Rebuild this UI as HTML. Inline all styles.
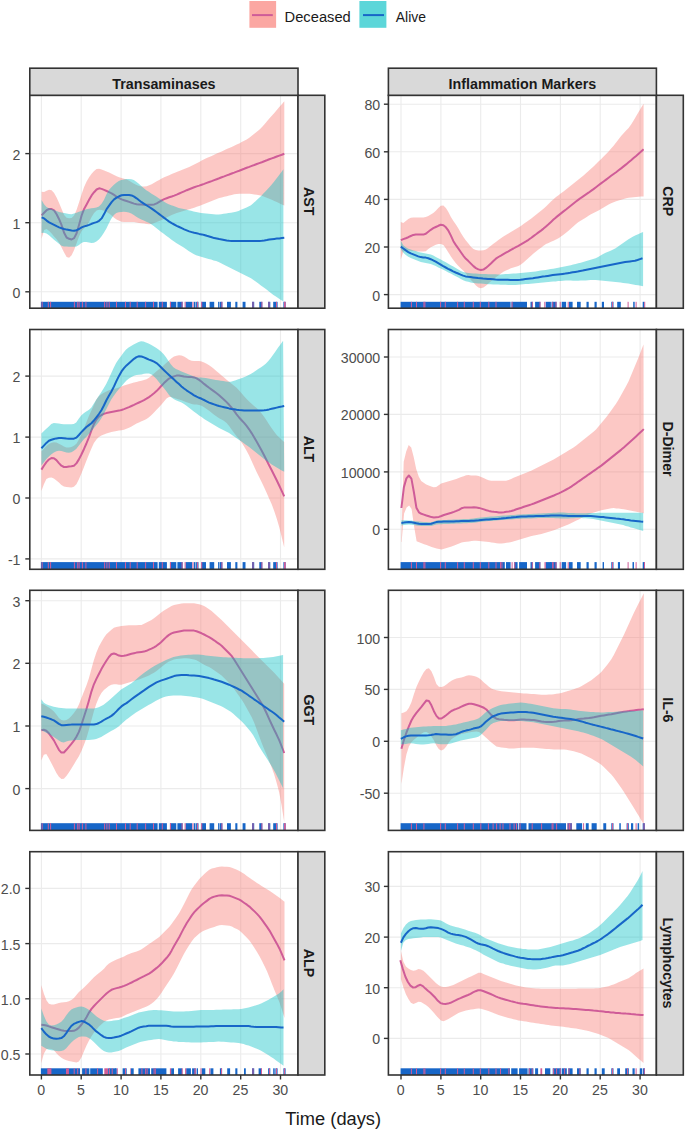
<!DOCTYPE html><html><head><meta charset="utf-8"><style>html,body{margin:0;padding:0;background:#fff;overflow:hidden;}svg{display:block;font-family:"Liberation Sans",sans-serif;}</style></head><body><svg width="685" height="1131" viewBox="0 0 685 1131">
<rect width="685" height="1131" fill="#fff"/>
<clipPath id="clip00"><rect x="29.8" y="95.3" width="268.2" height="212.89999999999998"/></clipPath>
<g stroke="#EBEBEB" stroke-width="1.1">
<line x1="41.4" y1="95.3" x2="41.4" y2="308.2"/>
<line x1="81.2" y1="95.3" x2="81.2" y2="308.2"/>
<line x1="121.1" y1="95.3" x2="121.1" y2="308.2"/>
<line x1="160.9" y1="95.3" x2="160.9" y2="308.2"/>
<line x1="200.8" y1="95.3" x2="200.8" y2="308.2"/>
<line x1="240.7" y1="95.3" x2="240.7" y2="308.2"/>
<line x1="280.5" y1="95.3" x2="280.5" y2="308.2"/>
<line x1="29.8" y1="291.8" x2="298.0" y2="291.8"/>
<line x1="29.8" y1="222.7" x2="298.0" y2="222.7"/>
<line x1="29.8" y1="153.6" x2="298.0" y2="153.6"/>
</g>
<g clip-path="url(#clip00)">
<path d="M41.6,191.7 44.1,192.0 46.6,190.7 49.1,189.8 51.6,190.2 54.1,192.9 56.6,197.5 59.1,203.0 61.6,209.1 64.1,214.9 66.6,217.8 69.1,218.3 71.6,218.0 74.1,215.5 76.6,209.8 79.1,202.3 81.6,194.3 84.1,187.1 86.6,181.5 89.1,177.3 91.6,173.8 94.1,171.0 96.6,169.0 99.1,168.7 101.6,169.4 104.1,170.4 106.6,171.4 109.1,172.6 111.6,173.8 114.1,175.0 116.6,176.2 119.1,177.2 121.6,178.0 124.1,178.7 126.6,179.5 129.1,180.8 131.6,182.3 134.1,183.8 136.6,185.1 139.1,186.0 141.6,186.6 144.2,186.6 146.7,186.2 149.2,185.3 151.7,184.2 154.2,182.8 156.7,181.3 159.2,179.9 161.7,178.5 164.2,177.3 166.7,176.2 169.2,175.2 171.7,174.1 174.2,173.0 176.7,172.0 179.2,171.0 181.7,170.0 184.2,169.0 186.7,168.0 189.2,167.0 191.7,165.8 194.2,164.6 196.7,163.3 199.2,161.9 201.7,160.6 204.2,159.3 206.7,158.1 209.2,157.0 211.7,155.9 214.2,154.8 216.7,153.6 219.2,152.5 221.7,151.4 224.2,150.3 226.7,149.1 229.2,148.0 231.7,146.9 234.2,145.7 236.7,144.6 239.2,143.4 241.7,142.1 244.2,140.8 246.7,139.5 249.3,137.7 251.8,135.8 254.3,133.8 256.8,131.8 259.3,129.8 261.8,127.2 264.3,124.4 266.8,121.5 269.3,118.6 271.8,115.8 274.3,112.9 276.8,110.0 279.3,107.1 281.8,104.2 284.3,101.3 284.3,205.6 281.8,204.4 279.3,203.3 276.8,202.1 274.3,201.0 271.8,199.8 269.3,198.8 266.8,197.7 264.3,196.7 261.8,195.8 259.3,195.2 256.8,194.8 254.3,194.4 251.8,194.0 249.3,193.8 246.7,193.8 244.2,193.8 241.7,193.8 239.2,193.8 236.7,193.9 234.2,194.3 231.7,194.9 229.2,195.5 226.7,196.2 224.2,196.8 221.7,197.4 219.2,198.1 216.7,198.9 214.2,199.9 211.7,200.9 209.2,201.9 206.7,202.9 204.2,203.9 201.7,204.9 199.2,205.9 196.7,206.8 194.2,207.7 191.7,208.5 189.2,209.2 186.7,209.9 184.2,210.7 181.7,211.4 179.2,212.2 176.7,213.0 174.2,213.9 171.7,215.1 169.2,216.3 166.7,217.6 164.2,218.7 161.7,219.9 159.2,220.9 156.7,222.0 154.2,223.1 151.7,224.1 149.2,224.3 146.7,224.0 144.2,223.6 141.6,223.3 139.1,222.9 136.6,222.4 134.1,222.1 131.6,221.9 129.1,221.9 126.6,221.9 124.1,221.9 121.6,221.7 119.1,220.8 116.6,219.4 114.1,217.7 111.6,215.5 109.1,213.6 106.6,212.1 104.1,210.7 101.6,209.9 99.1,209.8 96.6,210.6 94.1,213.0 91.6,217.0 89.1,221.9 86.6,225.8 84.1,228.3 81.6,231.0 79.1,236.3 76.6,243.2 74.1,250.0 71.6,255.3 69.1,257.8 66.6,256.9 64.1,252.6 61.6,247.5 59.1,242.8 56.6,239.3 54.1,236.4 51.6,233.5 49.1,231.0 46.6,229.1 44.1,230.0 41.6,238.8Z" fill="#F8766D" fill-opacity="0.4"/>
<path d="M41.6,215.4 44.1,212.7 46.6,210.2 49.1,209.0 51.6,209.0 54.1,210.4 56.6,214.2 59.1,219.2 61.6,225.2 64.1,232.8 66.6,237.5 69.1,238.8 71.6,239.5 74.1,238.1 76.6,233.2 79.1,224.7 81.6,215.5 84.1,208.9 86.6,204.4 89.1,199.8 91.6,195.4 94.1,192.2 96.6,189.5 99.1,188.3 101.6,188.9 104.1,189.9 106.6,191.0 109.1,192.2 111.6,193.3 114.1,194.9 116.6,196.7 119.1,198.2 121.6,199.4 124.1,200.2 126.6,201.0 129.1,201.9 131.6,202.8 134.1,203.6 136.6,204.2 139.1,204.5 141.6,204.6 144.2,204.7 146.7,204.7 149.2,204.7 151.7,204.7 154.2,204.4 156.7,203.3 159.2,201.8 161.7,200.3 164.2,199.1 166.7,198.2 169.2,197.3 171.7,196.5 174.2,195.6 176.7,194.6 179.2,193.5 181.7,192.4 184.2,191.3 186.7,190.2 189.2,189.2 191.7,188.2 194.2,187.3 196.7,186.4 199.2,185.6 201.7,184.7 204.2,183.9 206.7,182.9 209.2,182.0 211.7,181.1 214.2,180.1 216.7,179.2 219.2,178.3 221.7,177.3 224.2,176.4 226.7,175.4 229.2,174.5 231.7,173.5 234.2,172.6 236.7,171.6 239.2,170.7 241.7,169.7 244.2,168.8 246.7,167.8 249.3,166.9 251.8,165.9 254.3,165.0 256.8,164.0 259.3,163.1 261.8,162.2 264.3,161.2 266.8,160.3 269.3,159.3 271.8,158.4 274.3,157.5 276.8,156.5 279.3,155.6 281.8,154.7 284.3,153.7" fill="none" stroke="#CF5C98" stroke-width="2" stroke-linejoin="round"/>
<path d="M41.6,200.1 44.0,204.2 46.5,206.9 49.0,208.2 51.5,209.0 54.0,209.9 56.5,211.0 59.0,211.9 61.5,212.6 64.0,213.1 66.5,213.6 69.0,214.1 71.5,214.2 74.0,213.6 76.5,212.7 79.0,211.8 81.4,210.9 83.9,210.1 86.4,209.3 88.9,208.8 91.4,208.3 93.9,207.9 96.4,207.6 98.9,206.6 101.4,204.1 103.9,199.9 106.4,194.5 108.9,190.1 111.4,187.2 113.9,184.8 116.3,182.7 118.8,181.1 121.3,180.0 123.8,179.4 126.3,179.1 128.8,178.9 131.3,179.2 133.8,180.1 136.3,181.7 138.8,183.7 141.3,186.1 143.8,188.3 146.3,190.2 148.8,191.8 151.2,193.4 153.7,194.9 156.2,196.5 158.7,198.2 161.2,199.8 163.7,201.5 166.2,203.1 168.7,204.3 171.2,205.2 173.7,206.1 176.2,207.0 178.7,207.9 181.2,208.6 183.7,209.1 186.2,209.6 188.6,210.2 191.1,210.8 193.6,211.5 196.1,212.1 198.6,212.5 201.1,212.9 203.6,213.2 206.1,213.4 208.6,213.7 211.1,213.9 213.6,214.2 216.1,214.4 218.6,214.5 221.1,214.2 223.5,213.8 226.0,213.4 228.5,213.1 231.0,212.7 233.5,212.3 236.0,211.8 238.5,210.9 241.0,209.8 243.5,208.7 246.0,207.7 248.5,206.6 251.0,205.2 253.5,203.1 256.0,200.8 258.4,198.5 260.9,196.2 263.4,193.6 265.9,190.9 268.4,188.2 270.9,185.5 273.4,182.6 275.9,179.3 278.4,176.0 280.9,172.7 283.4,169.3 283.4,301.6 280.9,300.0 278.4,298.3 275.9,296.6 273.4,295.0 270.9,293.1 268.4,291.1 265.9,289.1 263.4,287.2 260.9,285.4 258.4,283.6 256.0,281.8 253.5,280.0 251.0,278.3 248.5,276.9 246.0,275.7 243.5,274.4 241.0,273.2 238.5,271.9 236.0,270.7 233.5,269.5 231.0,268.2 228.5,267.0 226.0,265.7 223.5,264.5 221.1,263.2 218.6,262.0 216.1,261.1 213.6,260.4 211.1,259.6 208.6,258.9 206.1,258.2 203.6,257.5 201.1,256.8 198.6,256.1 196.1,255.2 193.6,254.1 191.1,252.6 188.6,251.0 186.2,249.3 183.7,247.6 181.2,246.1 178.7,244.5 176.2,242.9 173.7,241.3 171.2,239.4 168.7,237.6 166.2,235.7 163.7,233.8 161.2,231.9 158.7,230.0 156.2,228.0 153.7,226.0 151.2,224.2 148.8,222.8 146.3,221.7 143.8,220.6 141.3,219.5 138.8,218.3 136.3,216.8 133.8,215.1 131.3,213.5 128.8,212.4 126.3,211.9 123.8,211.7 121.3,211.9 118.8,212.3 116.3,213.0 113.9,214.9 111.4,218.4 108.9,223.3 106.4,228.4 103.9,232.8 101.4,236.5 98.9,239.4 96.4,241.4 93.9,242.7 91.4,243.0 88.9,242.5 86.4,241.9 83.9,242.0 81.4,243.0 79.0,245.0 76.5,246.4 74.0,246.8 71.5,246.8 69.0,246.8 66.5,246.6 64.0,246.4 61.5,245.8 59.0,243.8 56.5,241.7 54.0,239.8 51.5,237.5 49.0,235.3 46.5,233.6 44.0,232.7 41.6,233.0Z" fill="#00BFC4" fill-opacity="0.4"/>
<path d="M41.6,217.3 44.1,218.4 46.6,220.6 49.1,222.4 51.6,223.6 54.1,224.8 56.6,226.2 59.1,227.4 61.6,228.3 64.1,229.0 66.6,229.6 69.1,230.1 71.6,230.6 74.1,230.8 76.6,230.2 79.1,229.0 81.6,227.4 84.1,226.4 86.6,225.7 89.1,224.9 91.6,223.8 94.1,222.9 96.6,222.1 99.1,220.8 101.6,218.4 104.1,214.1 106.6,209.1 109.1,205.6 111.6,202.2 114.1,199.4 116.6,197.6 119.1,196.3 121.6,195.3 124.1,195.0 126.6,194.9 129.1,194.9 131.6,195.4 134.1,196.6 136.6,198.3 139.1,200.3 141.6,202.2 144.2,203.9 146.7,205.5 149.2,207.0 151.7,208.6 154.2,210.4 156.7,212.2 159.2,214.1 161.7,216.0 164.2,217.9 166.7,219.7 169.2,221.6 171.7,223.2 174.2,224.5 176.7,225.8 179.2,227.0 181.7,228.2 184.2,229.4 186.7,230.4 189.2,231.4 191.7,232.1 194.2,232.8 196.7,233.3 199.2,233.9 201.7,234.4 204.2,235.0 206.7,235.8 209.2,236.5 211.7,237.3 214.2,238.1 216.7,238.6 219.2,239.1 221.7,239.5 224.2,240.0 226.7,240.5 229.2,240.8 231.7,240.9 234.2,240.9 236.7,240.9 239.2,240.9 241.7,240.9 244.2,240.9 246.7,240.9 249.3,240.9 251.8,240.9 254.3,240.9 256.8,240.9 259.3,240.9 261.8,240.8 264.3,240.5 266.8,240.1 269.3,239.6 271.8,239.2 274.3,238.9 276.8,238.6 279.3,238.4 281.8,238.1 284.3,237.8" fill="none" stroke="#1766C8" stroke-width="2" stroke-linejoin="round"/>
<rect x="40.9" y="301.8" width="116.7" height="6.4" fill="#1766C8"/>
<rect x="158.8" y="301.8" width="8.1" height="6.4" fill="#1766C8"/>
<rect x="169.9" y="301.8" width="6.4" height="6.4" fill="#1766C8"/>
<rect x="177.4" y="301.8" width="5.3" height="6.4" fill="#1766C8"/>
<rect x="185.6" y="301.8" width="6.4" height="6.4" fill="#1766C8"/>
<rect x="193.8" y="301.8" width="1.7" height="6.4" fill="#1766C8"/>
<rect x="196.1" y="301.8" width="2.4" height="6.4" fill="#1766C8"/>
<rect x="201.4" y="301.8" width="4.6" height="6.4" fill="#1766C8"/>
<rect x="209.6" y="301.8" width="4.6" height="6.4" fill="#1766C8"/>
<rect x="218.0" y="301.8" width="0.9" height="6.4" fill="#1766C8"/>
<rect x="219.5" y="301.8" width="2.9" height="6.4" fill="#1766C8"/>
<rect x="227.0" y="301.8" width="3.9" height="6.4" fill="#1766C8"/>
<rect x="235.3" y="301.8" width="2.1" height="6.4" fill="#1766C8"/>
<rect x="242.6" y="301.8" width="2.9" height="6.4" fill="#1766C8"/>
<rect x="252.0" y="301.8" width="2.2" height="6.4" fill="#1766C8"/>
<rect x="259.3" y="301.8" width="3.0" height="6.4" fill="#1766C8"/>
<rect x="268.0" y="301.8" width="2.3" height="6.4" fill="#1766C8"/>
<rect x="273.2" y="301.8" width="4.4" height="6.4" fill="#1766C8"/>
<rect x="283.4" y="301.8" width="2.2" height="6.4" fill="#1766C8"/>
<rect x="41.6" y="301.8" width="1" height="6.4" fill="#CF5C98"/>
<rect x="47.8" y="301.8" width="1" height="6.4" fill="#CF5C98"/>
<rect x="50.1" y="301.8" width="1" height="6.4" fill="#CF5C98"/>
<rect x="73.9" y="301.8" width="1" height="6.4" fill="#CF5C98"/>
<rect x="77.2" y="301.8" width="1" height="6.4" fill="#CF5C98"/>
<rect x="78.6" y="301.8" width="1" height="6.4" fill="#CF5C98"/>
<rect x="81.9" y="301.8" width="1" height="6.4" fill="#CF5C98"/>
<rect x="85.4" y="301.8" width="1" height="6.4" fill="#CF5C98"/>
<rect x="104.1" y="301.8" width="1" height="6.4" fill="#CF5C98"/>
<rect x="106.4" y="301.8" width="1" height="6.4" fill="#CF5C98"/>
<rect x="108.7" y="301.8" width="1" height="6.4" fill="#CF5C98"/>
<rect x="116.0" y="301.8" width="1" height="6.4" fill="#CF5C98"/>
<rect x="125.0" y="301.8" width="1" height="6.4" fill="#CF5C98"/>
<rect x="129.7" y="301.8" width="1" height="6.4" fill="#CF5C98"/>
<rect x="136.7" y="301.8" width="1" height="6.4" fill="#CF5C98"/>
<rect x="145.1" y="301.8" width="1" height="6.4" fill="#CF5C98"/>
<rect x="153.0" y="301.8" width="1" height="6.4" fill="#CF5C98"/>
<rect x="161.8" y="301.8" width="1" height="6.4" fill="#CF5C98"/>
<rect x="170.0" y="301.8" width="1" height="6.4" fill="#CF5C98"/>
<rect x="181.6" y="301.8" width="1" height="6.4" fill="#CF5C98"/>
<rect x="184.6" y="301.8" width="1" height="6.4" fill="#CF5C98"/>
<rect x="192.4" y="301.8" width="1" height="6.4" fill="#CF5C98"/>
<rect x="197.0" y="301.8" width="1" height="6.4" fill="#CF5C98"/>
<rect x="201.2" y="301.8" width="1" height="6.4" fill="#CF5C98"/>
<rect x="221.4" y="301.8" width="1" height="6.4" fill="#CF5C98"/>
<rect x="252.5" y="301.8" width="1" height="6.4" fill="#CF5C98"/>
<rect x="261.4" y="301.8" width="1" height="6.4" fill="#CF5C98"/>
<rect x="268.5" y="301.8" width="1" height="6.4" fill="#CF5C98"/>
<rect x="276.0" y="301.8" width="1" height="6.4" fill="#CF5C98"/>
<rect x="284.0" y="301.8" width="1" height="6.4" fill="#CF5C98"/>
<rect x="284.7" y="301.8" width="1" height="6.4" fill="#CF5C98"/>
</g>
<rect x="29.8" y="95.3" width="268.2" height="212.89999999999998" fill="none" stroke="#333" stroke-width="1.6"/>
<rect x="298.0" y="95.3" width="26.80000000000001" height="212.89999999999998" fill="#D9D9D9" stroke="#333" stroke-width="1.6"/>
<text transform="translate(304.1,201.3) rotate(90)" text-anchor="middle" font-weight="bold" font-size="14.2" fill="#1A1A1A">AST</text>
<line x1="25.3" y1="291.8" x2="29.8" y2="291.8" stroke="#333" stroke-width="1.4"/>
<text transform="translate(20.5,297.8) scale(0.915,1)" text-anchor="end" font-size="15.5" fill="#4D4D4D">0</text>
<line x1="25.3" y1="222.7" x2="29.8" y2="222.7" stroke="#333" stroke-width="1.4"/>
<text transform="translate(20.5,228.7) scale(0.915,1)" text-anchor="end" font-size="15.5" fill="#4D4D4D">1</text>
<line x1="25.3" y1="153.6" x2="29.8" y2="153.6" stroke="#333" stroke-width="1.4"/>
<text transform="translate(20.5,159.6) scale(0.915,1)" text-anchor="end" font-size="15.5" fill="#4D4D4D">2</text>
<clipPath id="clip01"><rect x="388.4" y="95.3" width="268.0" height="212.89999999999998"/></clipPath>
<g stroke="#EBEBEB" stroke-width="1.1">
<line x1="401.0" y1="95.3" x2="401.0" y2="308.2"/>
<line x1="440.9" y1="95.3" x2="440.9" y2="308.2"/>
<line x1="480.7" y1="95.3" x2="480.7" y2="308.2"/>
<line x1="520.5" y1="95.3" x2="520.5" y2="308.2"/>
<line x1="560.4" y1="95.3" x2="560.4" y2="308.2"/>
<line x1="600.2" y1="95.3" x2="600.2" y2="308.2"/>
<line x1="640.1" y1="95.3" x2="640.1" y2="308.2"/>
<line x1="388.4" y1="294.6" x2="656.4" y2="294.6"/>
<line x1="388.4" y1="247.0" x2="656.4" y2="247.0"/>
<line x1="388.4" y1="199.4" x2="656.4" y2="199.4"/>
<line x1="388.4" y1="151.8" x2="656.4" y2="151.8"/>
<line x1="388.4" y1="104.2" x2="656.4" y2="104.2"/>
</g>
<g clip-path="url(#clip01)">
<path d="M400.8,222.0 403.3,223.0 405.8,221.1 408.3,218.9 410.8,217.8 413.3,217.4 415.8,217.4 418.3,217.4 420.8,217.4 423.3,217.4 425.8,217.1 428.3,216.0 430.8,214.5 433.3,212.9 435.8,210.7 438.3,208.1 440.8,205.7 443.4,205.4 445.9,207.9 448.4,212.1 450.9,216.9 453.4,221.0 455.9,224.6 458.4,228.5 460.9,232.9 463.4,237.1 465.9,240.5 468.4,243.6 470.9,246.7 473.4,249.0 475.9,250.0 478.4,250.6 480.9,250.6 483.4,250.3 485.9,249.6 488.4,247.8 490.9,245.8 493.4,243.8 495.9,241.9 498.4,240.0 500.9,238.2 503.4,236.5 505.9,235.1 508.4,233.6 510.9,232.1 513.4,230.6 515.9,229.1 518.4,227.5 520.9,225.9 523.5,224.1 526.0,222.3 528.5,220.5 531.0,218.7 533.5,216.8 536.0,214.8 538.5,212.8 541.0,210.8 543.5,208.7 546.0,206.4 548.5,204.0 551.0,201.6 553.5,199.3 556.0,197.1 558.5,195.2 561.0,193.3 563.5,191.4 566.0,189.5 568.5,187.6 571.0,185.6 573.5,183.6 576.0,181.6 578.5,179.6 581.0,177.5 583.5,175.4 586.0,173.3 588.5,171.1 591.0,168.8 593.5,166.4 596.0,164.1 598.5,161.6 601.0,159.2 603.6,156.6 606.1,154.1 608.6,151.5 611.1,148.6 613.6,145.7 616.1,142.6 618.6,139.3 621.1,136.0 623.6,133.2 626.1,130.6 628.6,127.9 631.1,124.4 633.6,120.5 636.1,116.3 638.6,112.0 641.1,107.8 643.6,103.8 643.6,196.4 641.1,196.6 638.6,196.8 636.1,197.0 633.6,197.2 631.1,197.4 628.6,197.7 626.1,198.3 623.6,199.0 621.1,199.7 618.6,200.4 616.1,201.3 613.6,202.2 611.1,203.2 608.6,204.6 606.1,206.1 603.6,207.6 601.0,209.1 598.5,210.4 596.0,211.7 593.5,213.0 591.0,214.3 588.5,215.8 586.0,217.4 583.5,218.9 581.0,220.4 578.5,222.1 576.0,224.1 573.5,226.3 571.0,228.5 568.5,230.7 566.0,232.8 563.5,234.7 561.0,236.6 558.5,238.3 556.0,239.6 553.5,240.7 551.0,241.8 548.5,243.0 546.0,244.1 543.5,245.7 541.0,247.7 538.5,249.6 536.0,251.6 533.5,253.6 531.0,255.8 528.5,258.0 526.0,260.2 523.5,262.4 520.9,264.5 518.4,265.9 515.9,266.7 513.4,267.4 510.9,268.3 508.4,269.4 505.9,270.5 503.4,271.8 500.9,273.6 498.4,275.4 495.9,277.2 493.4,279.2 490.9,281.3 488.4,283.5 485.9,285.7 483.4,287.6 480.9,288.2 478.4,287.5 475.9,285.4 473.4,282.6 470.9,279.9 468.4,276.7 465.9,273.5 463.4,270.8 460.9,268.5 458.4,266.0 455.9,263.2 453.4,260.1 450.9,256.4 448.4,252.4 445.9,248.4 443.4,245.1 440.8,244.0 438.3,244.0 435.8,244.7 433.3,245.9 430.8,247.3 428.3,249.1 425.8,251.2 423.3,251.6 420.8,251.5 418.3,251.4 415.8,251.3 413.3,251.1 410.8,250.8 408.3,250.6 405.8,250.4 403.3,251.7 400.8,259.4Z" fill="#F8766D" fill-opacity="0.4"/>
<path d="M400.8,240.1 403.3,239.1 405.8,238.2 408.3,237.2 410.8,236.0 413.3,234.9 415.8,234.4 418.3,234.5 420.8,234.6 423.3,234.6 425.8,233.7 428.3,231.7 430.8,229.8 433.3,228.2 435.8,227.0 438.3,225.8 440.8,224.8 443.4,225.2 445.9,227.3 448.4,230.7 450.9,235.6 453.4,241.2 455.9,245.1 458.4,248.6 460.9,252.2 463.4,255.8 465.9,258.8 468.4,261.1 470.9,263.6 473.4,266.1 475.9,268.1 478.4,269.4 480.9,270.0 483.4,269.6 485.9,267.9 488.4,265.8 490.9,263.5 493.4,261.0 495.9,258.7 498.4,257.0 500.9,255.6 503.4,254.1 505.9,252.7 508.4,251.3 510.9,249.8 513.4,248.5 515.9,247.1 518.4,245.8 520.9,244.4 523.5,242.9 526.0,241.4 528.5,239.8 531.0,238.0 533.5,236.1 536.0,234.3 538.5,232.4 541.0,230.6 543.5,228.6 546.0,226.4 548.5,224.2 551.0,221.9 553.5,219.6 556.0,217.4 558.5,215.4 561.0,213.4 563.5,211.4 566.0,209.5 568.5,207.5 571.0,205.5 573.5,203.5 576.0,201.5 578.5,199.6 581.0,197.8 583.5,196.1 586.0,194.4 588.5,192.7 591.0,190.9 593.5,189.1 596.0,187.2 598.5,185.3 601.0,183.4 603.6,181.5 606.1,179.6 608.6,177.7 611.1,175.8 613.6,174.0 616.1,172.2 618.6,170.3 621.1,168.4 623.6,166.4 626.1,164.4 628.6,162.3 631.1,160.2 633.6,158.0 636.1,155.9 638.6,153.7 641.1,151.5 643.6,149.3" fill="none" stroke="#CF5C98" stroke-width="2" stroke-linejoin="round"/>
<path d="M400.8,240.7 403.3,245.3 405.8,247.3 408.3,248.7 410.8,249.6 413.3,250.4 415.8,251.1 418.3,251.9 420.8,252.5 423.3,253.0 425.8,253.5 428.3,254.0 430.8,254.6 433.3,255.6 435.8,256.9 438.3,258.2 440.8,259.6 443.3,260.9 445.8,262.3 448.3,263.7 450.8,265.2 453.3,266.6 455.8,268.0 458.3,269.4 460.8,270.9 463.2,272.1 465.7,272.6 468.2,272.9 470.7,273.2 473.2,273.4 475.7,273.6 478.2,273.8 480.7,273.9 483.2,274.0 485.7,274.1 488.2,274.2 490.7,274.3 493.2,274.3 495.7,274.3 498.2,274.4 500.7,274.4 503.2,274.2 505.7,274.1 508.2,273.9 510.7,273.8 513.2,273.6 515.7,273.4 518.2,273.2 520.7,273.0 523.2,272.7 525.7,272.5 528.2,272.2 530.7,272.0 533.2,271.7 535.7,271.4 538.2,271.0 540.7,270.6 543.2,270.2 545.7,269.9 548.2,269.5 550.7,269.1 553.2,268.7 555.7,268.2 558.2,267.8 560.7,267.3 563.2,266.8 565.7,266.3 568.2,265.8 570.7,265.2 573.2,264.6 575.7,264.0 578.2,263.3 580.7,262.7 583.1,262.0 585.6,261.3 588.1,260.6 590.6,259.8 593.1,259.1 595.6,258.3 598.1,257.0 600.6,255.4 603.1,253.9 605.6,252.7 608.1,251.7 610.6,250.7 613.1,249.6 615.6,248.3 618.1,246.6 620.6,244.7 623.1,242.9 625.6,241.2 628.1,239.6 630.6,238.0 633.1,236.5 635.6,235.3 638.1,234.2 640.6,233.1 643.1,232.0 643.1,286.2 640.6,285.8 638.1,285.3 635.6,284.9 633.1,284.4 630.6,284.0 628.1,283.6 625.6,283.2 623.1,282.9 620.6,282.6 618.1,282.3 615.6,282.0 613.1,281.7 610.6,281.4 608.1,281.2 605.6,280.9 603.1,280.7 600.6,280.4 598.1,280.2 595.6,280.0 593.1,280.0 590.6,280.1 588.1,280.3 585.6,280.4 583.1,280.5 580.7,280.6 578.2,280.7 575.7,280.8 573.2,280.7 570.7,280.6 568.2,280.6 565.7,280.6 563.2,280.7 560.7,280.9 558.2,281.1 555.7,281.4 553.2,281.6 550.7,281.8 548.2,282.0 545.7,282.3 543.2,282.5 540.7,282.8 538.2,283.0 535.7,283.3 533.2,283.5 530.7,283.7 528.2,283.9 525.7,284.1 523.2,284.3 520.7,284.6 518.2,284.8 515.7,284.9 513.2,285.0 510.7,284.9 508.2,284.9 505.7,284.8 503.2,284.7 500.7,284.7 498.2,284.6 495.7,284.5 493.2,284.4 490.7,284.3 488.2,284.2 485.7,284.0 483.2,283.8 480.7,283.6 478.2,283.4 475.7,283.2 473.2,282.9 470.7,282.4 468.2,281.8 465.7,281.2 463.2,280.3 460.8,279.1 458.3,277.6 455.8,276.2 453.3,274.9 450.8,273.6 448.3,272.4 445.8,271.1 443.3,269.8 440.8,268.6 438.3,267.4 435.8,266.1 433.3,264.9 430.8,264.0 428.3,263.4 425.8,262.9 423.3,262.4 420.8,261.9 418.3,261.1 415.8,260.1 413.3,259.1 410.8,258.1 408.3,256.8 405.8,255.0 403.3,252.7 400.8,248.9Z" fill="#00BFC4" fill-opacity="0.4"/>
<path d="M400.8,246.6 403.3,248.5 405.8,250.4 408.3,252.1 410.8,253.4 413.3,254.4 415.8,255.4 418.2,256.4 420.7,257.1 423.2,257.4 425.7,257.6 428.2,258.2 430.7,259.2 433.2,260.3 435.7,261.7 438.2,263.2 440.7,264.7 443.2,266.2 445.7,267.5 448.1,268.8 450.6,270.0 453.1,271.3 455.6,272.5 458.1,273.5 460.6,274.6 463.1,275.6 465.6,276.4 468.1,276.8 470.6,277.1 473.1,277.4 475.6,277.7 478.0,278.0 480.5,278.2 483.0,278.5 485.5,278.7 488.0,278.9 490.5,279.1 493.0,279.3 495.5,279.6 498.0,279.7 500.5,279.8 503.0,279.8 505.5,279.8 507.9,279.8 510.4,279.9 512.9,279.9 515.4,279.9 517.9,279.9 520.4,279.7 522.9,279.4 525.4,279.1 527.9,278.8 530.4,278.5 532.9,278.2 535.4,277.8 537.8,277.4 540.3,277.0 542.8,276.6 545.3,276.3 547.8,275.9 550.3,275.5 552.8,275.1 555.3,274.8 557.8,274.5 560.3,274.2 562.8,273.9 565.3,273.6 567.7,273.2 570.2,272.8 572.7,272.3 575.2,271.9 577.7,271.5 580.2,271.0 582.7,270.6 585.2,270.1 587.7,269.6 590.2,269.1 592.7,268.6 595.2,268.1 597.6,267.6 600.1,267.1 602.6,266.6 605.1,266.1 607.6,265.6 610.1,265.1 612.6,264.6 615.1,264.1 617.6,263.6 620.1,263.1 622.6,262.6 625.1,262.1 627.5,261.7 630.0,261.4 632.5,261.1 635.0,260.7 637.5,260.0 640.0,259.1 642.5,258.2" fill="none" stroke="#1766C8" stroke-width="2" stroke-linejoin="round"/>
<rect x="400.6" y="301.8" width="110.0" height="6.4" fill="#1766C8"/>
<rect x="511.4" y="301.8" width="15.6" height="6.4" fill="#1766C8"/>
<rect x="530.5" y="301.8" width="2.3" height="6.4" fill="#1766C8"/>
<rect x="535.1" y="301.8" width="5.3" height="6.4" fill="#1766C8"/>
<rect x="545.7" y="301.8" width="5.2" height="6.4" fill="#1766C8"/>
<rect x="551.5" y="301.8" width="5.1" height="6.4" fill="#1766C8"/>
<rect x="561.7" y="301.8" width="4.4" height="6.4" fill="#1766C8"/>
<rect x="569.0" y="301.8" width="3.6" height="6.4" fill="#1766C8"/>
<rect x="577.0" y="301.8" width="3.7" height="6.4" fill="#1766C8"/>
<rect x="586.5" y="301.8" width="2.2" height="6.4" fill="#1766C8"/>
<rect x="594.5" y="301.8" width="2.2" height="6.4" fill="#1766C8"/>
<rect x="601.8" y="301.8" width="2.2" height="6.4" fill="#1766C8"/>
<rect x="611.3" y="301.8" width="2.2" height="6.4" fill="#1766C8"/>
<rect x="617.2" y="301.8" width="3.6" height="6.4" fill="#1766C8"/>
<rect x="633.2" y="301.8" width="1.5" height="6.4" fill="#1766C8"/>
<rect x="642.7" y="301.8" width="1.5" height="6.4" fill="#1766C8"/>
<rect x="410.9" y="301.8" width="1" height="6.4" fill="#CF5C98"/>
<rect x="416.0" y="301.8" width="1" height="6.4" fill="#CF5C98"/>
<rect x="423.4" y="301.8" width="1" height="6.4" fill="#CF5C98"/>
<rect x="424.4" y="301.8" width="1" height="6.4" fill="#CF5C98"/>
<rect x="440.1" y="301.8" width="1" height="6.4" fill="#CF5C98"/>
<rect x="444.8" y="301.8" width="1" height="6.4" fill="#CF5C98"/>
<rect x="457.1" y="301.8" width="1" height="6.4" fill="#CF5C98"/>
<rect x="463.8" y="301.8" width="1" height="6.4" fill="#CF5C98"/>
<rect x="472.8" y="301.8" width="1" height="6.4" fill="#CF5C98"/>
<rect x="479.8" y="301.8" width="1" height="6.4" fill="#CF5C98"/>
<rect x="488.3" y="301.8" width="1" height="6.4" fill="#CF5C98"/>
<rect x="495.5" y="301.8" width="1" height="6.4" fill="#CF5C98"/>
<rect x="511.6" y="301.8" width="1" height="6.4" fill="#CF5C98"/>
<rect x="531.8" y="301.8" width="1" height="6.4" fill="#CF5C98"/>
<rect x="539.5" y="301.8" width="1" height="6.4" fill="#CF5C98"/>
<rect x="544.3" y="301.8" width="1" height="6.4" fill="#CF5C98"/>
<rect x="552.2" y="301.8" width="1" height="6.4" fill="#CF5C98"/>
<rect x="555.5" y="301.8" width="1" height="6.4" fill="#CF5C98"/>
<rect x="559.7" y="301.8" width="1" height="6.4" fill="#CF5C98"/>
<rect x="567.7" y="301.8" width="1" height="6.4" fill="#CF5C98"/>
<rect x="612.0" y="301.8" width="1" height="6.4" fill="#CF5C98"/>
<rect x="627.6" y="301.8" width="1" height="6.4" fill="#CF5C98"/>
<rect x="635.6" y="301.8" width="1" height="6.4" fill="#CF5C98"/>
<rect x="644.2" y="301.8" width="1" height="6.4" fill="#CF5C98"/>
</g>
<rect x="388.4" y="95.3" width="268.0" height="212.89999999999998" fill="none" stroke="#333" stroke-width="1.6"/>
<rect x="656.4" y="95.3" width="26.899999999999977" height="212.89999999999998" fill="#D9D9D9" stroke="#333" stroke-width="1.6"/>
<text transform="translate(662.5,201.3) rotate(90)" text-anchor="middle" font-weight="bold" font-size="14.2" fill="#1A1A1A">CRP</text>
<line x1="383.9" y1="294.6" x2="388.4" y2="294.6" stroke="#333" stroke-width="1.4"/>
<text transform="translate(380.2,300.6) scale(0.915,1)" text-anchor="end" font-size="15.5" fill="#4D4D4D">0</text>
<line x1="383.9" y1="247.0" x2="388.4" y2="247.0" stroke="#333" stroke-width="1.4"/>
<text transform="translate(380.2,253.0) scale(0.915,1)" text-anchor="end" font-size="15.5" fill="#4D4D4D">20</text>
<line x1="383.9" y1="199.4" x2="388.4" y2="199.4" stroke="#333" stroke-width="1.4"/>
<text transform="translate(380.2,205.4) scale(0.915,1)" text-anchor="end" font-size="15.5" fill="#4D4D4D">40</text>
<line x1="383.9" y1="151.8" x2="388.4" y2="151.8" stroke="#333" stroke-width="1.4"/>
<text transform="translate(380.2,157.8) scale(0.915,1)" text-anchor="end" font-size="15.5" fill="#4D4D4D">60</text>
<line x1="383.9" y1="104.2" x2="388.4" y2="104.2" stroke="#333" stroke-width="1.4"/>
<text transform="translate(380.2,110.2) scale(0.915,1)" text-anchor="end" font-size="15.5" fill="#4D4D4D">80</text>
<clipPath id="clip10"><rect x="29.8" y="329.5" width="268.2" height="239.79999999999995"/></clipPath>
<g stroke="#EBEBEB" stroke-width="1.1">
<line x1="41.4" y1="329.5" x2="41.4" y2="569.3"/>
<line x1="81.2" y1="329.5" x2="81.2" y2="569.3"/>
<line x1="121.1" y1="329.5" x2="121.1" y2="569.3"/>
<line x1="160.9" y1="329.5" x2="160.9" y2="569.3"/>
<line x1="200.8" y1="329.5" x2="200.8" y2="569.3"/>
<line x1="240.7" y1="329.5" x2="240.7" y2="569.3"/>
<line x1="280.5" y1="329.5" x2="280.5" y2="569.3"/>
<line x1="29.8" y1="558.9" x2="298.0" y2="558.9"/>
<line x1="29.8" y1="498.0" x2="298.0" y2="498.0"/>
<line x1="29.8" y1="437.1" x2="298.0" y2="437.1"/>
<line x1="29.8" y1="376.1" x2="298.0" y2="376.1"/>
</g>
<g clip-path="url(#clip10)">
<path d="M41.4,451.5 43.9,448.8 46.4,446.1 48.9,443.9 51.4,442.7 53.9,442.2 56.4,442.6 58.9,443.7 61.4,445.1 63.9,446.5 66.4,447.5 68.9,447.6 71.4,447.1 73.9,445.8 76.4,443.7 78.9,439.6 81.4,434.5 83.9,428.7 86.4,422.3 88.9,416.1 91.4,410.5 93.9,404.9 96.4,399.5 98.9,396.2 101.4,394.2 103.9,392.7 106.4,391.4 108.9,390.3 111.4,389.4 114.0,388.8 116.5,388.2 119.0,387.4 121.5,386.5 124.0,385.6 126.5,384.8 129.0,384.0 131.5,383.3 134.0,382.5 136.5,381.9 139.0,381.3 141.5,380.7 144.0,380.1 146.5,379.3 149.0,377.8 151.5,375.8 154.0,373.4 156.5,371.2 159.0,369.2 161.5,367.2 164.0,365.0 166.5,362.8 169.0,360.5 171.5,358.3 174.0,356.6 176.5,355.7 179.0,355.3 181.5,355.6 184.0,356.5 186.5,358.0 189.0,359.7 191.6,360.8 194.1,361.0 196.6,361.0 199.1,361.1 201.6,361.6 204.1,362.6 206.6,363.8 209.1,365.3 211.6,367.1 214.1,369.1 216.6,371.2 219.1,373.3 221.6,375.5 224.1,377.6 226.6,379.7 229.1,381.8 231.6,383.8 234.1,385.7 236.6,387.7 239.1,390.4 241.6,393.3 244.1,396.2 246.6,399.0 249.1,401.6 251.6,403.8 254.1,405.9 256.6,408.0 259.1,410.4 261.6,413.4 264.1,416.8 266.6,420.5 269.1,424.4 271.7,428.2 274.2,431.8 276.7,434.9 279.2,437.4 281.7,439.7 284.2,441.9 284.2,547.4 281.7,536.9 279.2,526.9 276.7,518.5 274.2,511.0 271.7,504.2 269.1,498.4 266.6,492.8 264.1,487.3 261.6,482.1 259.1,477.1 256.6,472.0 254.1,466.6 251.6,461.0 249.1,455.6 246.6,450.7 244.1,446.4 241.6,442.6 239.1,439.3 236.6,436.2 234.1,432.9 231.6,429.5 229.1,426.0 226.6,423.1 224.1,421.0 221.6,419.4 219.1,418.2 216.6,416.6 214.1,414.7 211.6,412.7 209.1,410.7 206.6,408.9 204.1,407.2 201.6,405.8 199.1,404.9 196.6,404.5 194.1,404.4 191.6,404.0 189.0,403.1 186.5,402.2 184.0,401.2 181.5,400.3 179.0,399.6 176.5,398.8 174.0,397.9 171.5,397.0 169.0,397.1 166.5,398.6 164.0,401.4 161.5,404.5 159.0,407.2 156.5,409.7 154.0,412.4 151.5,415.0 149.0,417.3 146.5,419.0 144.0,420.2 141.5,421.3 139.0,422.4 136.5,423.6 134.0,424.9 131.5,426.4 129.0,427.8 126.5,428.8 124.0,429.8 121.5,430.3 119.0,430.5 116.5,430.9 114.0,431.4 111.4,431.9 108.9,432.7 106.4,433.4 103.9,434.4 101.4,435.4 98.9,437.1 96.4,439.6 93.9,443.0 91.4,448.4 88.9,454.5 86.4,460.8 83.9,467.3 81.4,473.5 78.9,479.3 76.4,484.2 73.9,486.8 71.4,487.5 68.9,487.3 66.4,487.0 63.9,486.5 61.4,484.9 58.9,482.6 56.4,480.4 53.9,478.4 51.4,477.4 48.9,477.7 46.4,479.1 43.9,484.2 41.4,490.9Z" fill="#F8766D" fill-opacity="0.4"/>
<path d="M41.4,469.6 43.9,465.7 46.4,462.1 48.9,459.5 51.4,458.1 53.9,458.2 56.4,460.1 58.9,463.1 61.4,465.7 63.9,467.0 66.4,466.9 68.9,466.4 71.4,466.3 73.9,465.8 76.4,463.4 78.9,459.4 81.4,454.5 83.9,449.2 86.4,443.5 88.9,437.3 91.4,430.3 93.9,424.1 96.4,419.6 98.9,416.7 101.4,415.0 103.9,413.8 106.4,413.1 108.9,412.6 111.4,412.1 114.0,411.6 116.5,411.1 119.0,410.6 121.5,410.0 124.0,409.1 126.5,408.1 129.0,407.1 131.5,406.0 134.0,404.9 136.5,403.7 139.0,402.5 141.5,401.3 144.0,400.1 146.5,398.7 149.0,397.1 151.5,395.3 154.0,393.3 156.5,391.1 159.0,388.5 161.5,385.7 164.0,383.1 166.5,380.8 169.0,378.6 171.5,377.3 174.0,376.4 176.5,375.6 179.0,375.5 181.5,376.0 184.0,376.5 186.5,376.8 189.0,376.9 191.6,377.0 194.1,377.4 196.6,378.4 199.1,379.9 201.6,381.8 204.1,383.9 206.6,385.9 209.1,387.8 211.6,389.6 214.1,391.4 216.6,393.2 219.1,395.2 221.6,397.5 224.1,399.7 226.6,402.1 229.1,404.8 231.6,407.7 234.1,410.9 236.6,414.3 239.1,417.5 241.6,420.2 244.1,422.9 246.6,425.9 249.1,429.3 251.6,433.1 254.1,437.2 256.6,441.6 259.1,446.1 261.6,450.6 264.1,455.2 266.6,460.2 269.1,465.2 271.7,470.2 274.2,475.2 276.7,480.3 279.2,485.5 281.7,490.9 284.2,496.3" fill="none" stroke="#CF5C98" stroke-width="2" stroke-linejoin="round"/>
<path d="M41.4,433.4 43.9,431.1 46.3,428.8 48.8,426.4 51.3,424.0 53.8,423.1 56.3,423.2 58.8,423.6 61.3,424.0 63.8,424.2 66.3,424.3 68.8,424.2 71.3,424.2 73.8,424.1 76.2,422.5 78.7,418.7 81.2,415.4 83.7,413.2 86.2,411.4 88.7,410.0 91.2,407.7 93.7,403.8 96.2,399.7 98.7,395.9 101.2,392.2 103.7,388.3 106.2,383.9 108.6,378.9 111.1,373.4 113.6,367.9 116.1,363.1 118.6,359.3 121.1,356.0 123.6,352.6 126.1,349.6 128.6,347.4 131.1,345.9 133.6,344.6 136.1,343.3 138.6,342.1 141.0,341.2 143.5,341.6 146.0,342.5 148.5,343.5 151.0,344.7 153.5,346.2 156.0,347.8 158.5,349.5 161.0,351.6 163.5,354.0 166.0,357.3 168.5,361.0 171.0,364.5 173.4,367.2 175.9,368.9 178.4,370.0 180.9,371.2 183.4,372.3 185.9,373.3 188.4,374.3 190.9,375.3 193.4,376.2 195.9,377.0 198.4,377.4 200.9,377.6 203.4,377.7 205.8,378.0 208.3,378.4 210.8,378.9 213.3,379.4 215.8,379.9 218.3,380.3 220.8,380.7 223.3,381.1 225.8,381.4 228.3,381.7 230.8,381.7 233.3,381.0 235.8,380.2 238.2,379.3 240.7,378.4 243.2,377.4 245.7,376.4 248.2,375.3 250.7,373.9 253.2,372.5 255.7,370.8 258.2,369.1 260.7,367.5 263.2,365.7 265.7,363.7 268.1,361.2 270.6,358.2 273.1,354.8 275.6,351.2 278.1,347.6 280.6,344.2 283.1,340.7 284.2,471.8 281.7,470.4 279.2,469.0 276.7,467.6 274.2,466.1 271.7,464.4 269.1,462.6 266.6,460.9 264.1,459.1 261.6,457.1 259.1,455.1 256.6,453.1 254.1,451.1 251.6,449.1 249.1,447.1 246.6,445.2 244.1,443.4 241.6,441.6 239.1,439.9 236.6,438.2 234.1,436.4 231.6,434.7 229.1,433.1 226.6,431.8 224.1,430.6 221.6,429.3 219.1,428.1 216.6,426.6 214.1,425.1 211.6,423.6 209.1,422.1 206.6,420.6 204.1,418.9 201.6,417.1 199.1,415.4 196.6,413.6 194.1,411.7 191.6,409.8 189.0,407.8 186.5,405.8 184.0,403.9 181.5,402.5 179.0,401.5 176.5,400.5 174.0,399.3 171.5,397.6 169.0,394.9 166.5,391.6 164.0,388.2 161.5,385.3 159.0,382.2 156.5,379.1 154.0,376.4 151.5,374.5 149.0,373.5 146.5,373.4 144.0,373.8 141.5,374.4 139.0,374.7 136.5,375.1 134.0,375.8 131.5,377.0 129.0,378.6 126.5,380.6 124.0,383.3 121.5,386.3 119.0,389.0 116.5,392.0 114.0,395.4 111.4,399.3 108.9,404.1 106.4,409.0 103.9,413.7 101.4,418.2 98.9,422.0 96.4,425.1 93.9,428.1 91.4,431.1 88.9,434.0 86.4,436.7 83.9,439.2 81.4,442.2 78.9,445.6 76.4,448.7 73.9,450.8 71.4,452.2 68.9,452.7 66.4,452.5 63.9,451.8 61.4,451.1 58.9,450.8 56.4,451.3 53.9,452.5 51.4,454.2 48.9,456.4 46.4,459.1 43.9,462.2 41.4,465.4Z" fill="#00BFC4" fill-opacity="0.4"/>
<path d="M41.4,448.3 43.9,445.6 46.4,442.9 48.9,440.8 51.4,439.8 53.9,439.0 56.4,438.4 58.9,438.0 61.4,438.0 63.9,438.2 66.4,438.6 68.9,438.8 71.4,438.8 73.9,438.7 76.4,437.6 78.9,435.0 81.4,432.2 83.9,429.5 86.4,427.0 88.9,425.1 91.4,423.2 93.9,420.5 96.4,417.3 98.9,414.0 101.4,410.2 103.9,405.5 106.4,400.2 108.9,395.8 111.4,391.5 114.0,386.4 116.5,380.9 119.0,375.9 121.5,371.4 124.0,368.1 126.5,365.4 129.0,363.2 131.5,361.0 134.0,358.8 136.5,357.1 139.0,356.3 141.5,356.5 144.0,357.4 146.5,358.5 149.0,359.6 151.5,360.5 154.0,361.6 156.5,363.1 159.0,365.2 161.5,367.7 164.0,370.2 166.5,372.6 169.0,375.0 171.5,377.3 174.0,379.6 176.5,381.9 179.0,384.1 181.5,386.4 184.0,388.5 186.5,390.3 189.0,392.0 191.6,393.7 194.1,395.3 196.6,396.7 199.1,397.8 201.6,398.8 204.1,400.0 206.6,401.3 209.1,402.6 211.6,403.5 214.1,404.4 216.6,405.3 219.1,406.0 221.6,406.6 224.1,407.2 226.6,407.8 229.1,408.4 231.6,408.9 234.1,409.3 236.6,409.7 239.1,410.0 241.6,410.2 244.1,410.4 246.6,410.4 249.1,410.4 251.6,410.4 254.1,410.4 256.6,410.4 259.1,410.4 261.6,410.4 264.1,410.2 266.6,409.9 269.1,409.4 271.7,408.8 274.2,408.2 276.7,407.6 279.2,407.0 281.7,406.6 284.2,406.1" fill="none" stroke="#1766C8" stroke-width="2" stroke-linejoin="round"/>
<rect x="40.9" y="562.1" width="116.7" height="7.2" fill="#1766C8"/>
<rect x="158.8" y="562.1" width="8.1" height="7.2" fill="#1766C8"/>
<rect x="169.9" y="562.1" width="6.4" height="7.2" fill="#1766C8"/>
<rect x="177.4" y="562.1" width="5.3" height="7.2" fill="#1766C8"/>
<rect x="185.6" y="562.1" width="6.4" height="7.2" fill="#1766C8"/>
<rect x="193.8" y="562.1" width="1.7" height="7.2" fill="#1766C8"/>
<rect x="196.1" y="562.1" width="2.4" height="7.2" fill="#1766C8"/>
<rect x="201.4" y="562.1" width="4.6" height="7.2" fill="#1766C8"/>
<rect x="209.6" y="562.1" width="4.6" height="7.2" fill="#1766C8"/>
<rect x="218.0" y="562.1" width="0.9" height="7.2" fill="#1766C8"/>
<rect x="219.5" y="562.1" width="2.9" height="7.2" fill="#1766C8"/>
<rect x="227.0" y="562.1" width="3.9" height="7.2" fill="#1766C8"/>
<rect x="235.3" y="562.1" width="2.1" height="7.2" fill="#1766C8"/>
<rect x="242.6" y="562.1" width="2.9" height="7.2" fill="#1766C8"/>
<rect x="252.0" y="562.1" width="2.2" height="7.2" fill="#1766C8"/>
<rect x="259.3" y="562.1" width="3.0" height="7.2" fill="#1766C8"/>
<rect x="268.0" y="562.1" width="2.3" height="7.2" fill="#1766C8"/>
<rect x="273.2" y="562.1" width="4.4" height="7.2" fill="#1766C8"/>
<rect x="283.4" y="562.1" width="2.2" height="7.2" fill="#1766C8"/>
<rect x="41.6" y="562.1" width="1" height="7.2" fill="#CF5C98"/>
<rect x="47.8" y="562.1" width="1" height="7.2" fill="#CF5C98"/>
<rect x="50.1" y="562.1" width="1" height="7.2" fill="#CF5C98"/>
<rect x="73.9" y="562.1" width="1" height="7.2" fill="#CF5C98"/>
<rect x="77.2" y="562.1" width="1" height="7.2" fill="#CF5C98"/>
<rect x="78.6" y="562.1" width="1" height="7.2" fill="#CF5C98"/>
<rect x="81.9" y="562.1" width="1" height="7.2" fill="#CF5C98"/>
<rect x="85.4" y="562.1" width="1" height="7.2" fill="#CF5C98"/>
<rect x="104.1" y="562.1" width="1" height="7.2" fill="#CF5C98"/>
<rect x="106.4" y="562.1" width="1" height="7.2" fill="#CF5C98"/>
<rect x="108.7" y="562.1" width="1" height="7.2" fill="#CF5C98"/>
<rect x="116.0" y="562.1" width="1" height="7.2" fill="#CF5C98"/>
<rect x="125.0" y="562.1" width="1" height="7.2" fill="#CF5C98"/>
<rect x="129.7" y="562.1" width="1" height="7.2" fill="#CF5C98"/>
<rect x="136.7" y="562.1" width="1" height="7.2" fill="#CF5C98"/>
<rect x="145.1" y="562.1" width="1" height="7.2" fill="#CF5C98"/>
<rect x="153.0" y="562.1" width="1" height="7.2" fill="#CF5C98"/>
<rect x="161.8" y="562.1" width="1" height="7.2" fill="#CF5C98"/>
<rect x="170.0" y="562.1" width="1" height="7.2" fill="#CF5C98"/>
<rect x="181.6" y="562.1" width="1" height="7.2" fill="#CF5C98"/>
<rect x="184.6" y="562.1" width="1" height="7.2" fill="#CF5C98"/>
<rect x="192.4" y="562.1" width="1" height="7.2" fill="#CF5C98"/>
<rect x="197.0" y="562.1" width="1" height="7.2" fill="#CF5C98"/>
<rect x="201.2" y="562.1" width="1" height="7.2" fill="#CF5C98"/>
<rect x="221.4" y="562.1" width="1" height="7.2" fill="#CF5C98"/>
<rect x="252.5" y="562.1" width="1" height="7.2" fill="#CF5C98"/>
<rect x="261.4" y="562.1" width="1" height="7.2" fill="#CF5C98"/>
<rect x="268.5" y="562.1" width="1" height="7.2" fill="#CF5C98"/>
<rect x="276.0" y="562.1" width="1" height="7.2" fill="#CF5C98"/>
<rect x="284.0" y="562.1" width="1" height="7.2" fill="#CF5C98"/>
<rect x="284.7" y="562.1" width="1" height="7.2" fill="#CF5C98"/>
</g>
<rect x="29.8" y="329.5" width="268.2" height="239.79999999999995" fill="none" stroke="#333" stroke-width="1.6"/>
<rect x="298.0" y="329.5" width="26.80000000000001" height="239.79999999999995" fill="#D9D9D9" stroke="#333" stroke-width="1.6"/>
<text transform="translate(304.1,449.0) rotate(90)" text-anchor="middle" font-weight="bold" font-size="14.2" fill="#1A1A1A">ALT</text>
<line x1="25.3" y1="558.9" x2="29.8" y2="558.9" stroke="#333" stroke-width="1.4"/>
<text transform="translate(20.5,564.9) scale(0.915,1)" text-anchor="end" font-size="15.5" fill="#4D4D4D">-1</text>
<line x1="25.3" y1="498.0" x2="29.8" y2="498.0" stroke="#333" stroke-width="1.4"/>
<text transform="translate(20.5,504.0) scale(0.915,1)" text-anchor="end" font-size="15.5" fill="#4D4D4D">0</text>
<line x1="25.3" y1="437.1" x2="29.8" y2="437.1" stroke="#333" stroke-width="1.4"/>
<text transform="translate(20.5,443.1) scale(0.915,1)" text-anchor="end" font-size="15.5" fill="#4D4D4D">1</text>
<line x1="25.3" y1="376.1" x2="29.8" y2="376.1" stroke="#333" stroke-width="1.4"/>
<text transform="translate(20.5,382.1) scale(0.915,1)" text-anchor="end" font-size="15.5" fill="#4D4D4D">2</text>
<clipPath id="clip11"><rect x="388.4" y="329.5" width="268.0" height="239.79999999999995"/></clipPath>
<g stroke="#EBEBEB" stroke-width="1.1">
<line x1="401.0" y1="329.5" x2="401.0" y2="569.3"/>
<line x1="440.9" y1="329.5" x2="440.9" y2="569.3"/>
<line x1="480.7" y1="329.5" x2="480.7" y2="569.3"/>
<line x1="520.5" y1="329.5" x2="520.5" y2="569.3"/>
<line x1="560.4" y1="329.5" x2="560.4" y2="569.3"/>
<line x1="600.2" y1="329.5" x2="600.2" y2="569.3"/>
<line x1="640.1" y1="329.5" x2="640.1" y2="569.3"/>
<line x1="388.4" y1="529.3" x2="656.4" y2="529.3"/>
<line x1="388.4" y1="471.9" x2="656.4" y2="471.9"/>
<line x1="388.4" y1="414.4" x2="656.4" y2="414.4"/>
<line x1="388.4" y1="357.0" x2="656.4" y2="357.0"/>
</g>
<g clip-path="url(#clip11)">
<path d="M401.2,542.1 403.7,461.8 406.2,451.5 408.7,444.9 411.2,447.4 413.7,456.9 416.2,468.9 418.7,476.5 421.2,481.1 423.7,482.8 426.2,484.4 428.7,485.4 431.2,486.4 433.7,487.3 436.2,486.9 438.7,485.2 441.2,483.6 443.7,482.8 446.2,482.0 448.7,481.3 451.2,480.5 453.7,479.7 456.2,478.9 458.7,478.0 461.2,477.1 463.7,476.2 466.1,475.2 468.6,475.1 471.1,475.4 473.6,475.6 476.1,475.6 478.6,476.0 481.1,476.9 483.6,478.0 486.1,479.2 488.6,480.3 491.1,480.7 493.6,480.7 496.1,480.7 498.6,480.7 501.1,480.7 503.6,480.8 506.1,480.7 508.6,480.1 511.1,479.0 513.6,477.8 516.1,476.8 518.6,475.8 521.1,474.8 523.6,473.8 526.1,472.8 528.6,471.8 531.1,470.8 533.6,469.6 536.1,468.3 538.6,467.1 541.1,465.8 543.6,464.6 546.1,463.3 548.6,462.1 551.1,460.8 553.6,459.5 556.1,458.0 558.6,456.5 561.1,455.0 563.6,453.5 566.1,452.0 568.5,450.5 571.0,449.0 573.5,447.5 576.0,445.7 578.5,443.7 581.0,441.7 583.5,439.7 586.0,437.7 588.5,435.7 591.0,433.7 593.5,431.7 596.0,429.6 598.5,426.6 601.0,423.6 603.5,420.6 606.0,417.6 608.5,414.3 611.0,410.8 613.5,407.3 616.0,403.8 618.5,399.8 621.0,395.3 623.5,390.8 626.0,386.3 628.5,381.5 631.0,375.5 633.5,369.5 636.0,363.5 638.5,357.5 641.0,351.0 643.5,344.5 643.8,513.3 641.3,512.8 638.8,512.3 636.3,511.8 633.8,511.2 631.3,510.7 628.8,510.2 626.3,509.7 623.8,509.2 621.3,508.9 618.8,508.6 616.3,508.4 613.8,508.1 611.4,508.2 608.9,508.7 606.4,509.2 603.9,509.7 601.4,510.2 598.9,510.9 596.4,511.7 593.9,512.4 591.4,513.2 588.9,514.4 586.4,515.6 583.9,516.9 581.4,518.1 578.9,519.4 576.4,520.6 573.9,521.8 571.4,523.1 568.9,524.3 566.4,525.3 563.9,526.3 561.4,527.2 558.9,528.2 556.4,529.2 553.9,530.2 551.4,531.0 548.9,531.8 546.4,532.5 543.9,533.3 541.4,533.9 539.0,534.4 536.5,534.9 534.0,535.4 531.5,535.9 529.0,536.7 526.5,537.4 524.0,538.2 521.5,538.9 519.0,539.7 516.5,540.4 514.0,541.2 511.5,541.9 509.0,542.4 506.5,542.8 504.0,543.2 501.5,543.6 499.0,543.6 496.5,543.2 494.0,542.8 491.5,542.4 489.0,542.0 486.5,541.8 484.0,541.5 481.5,541.2 479.0,540.9 476.5,540.7 474.0,540.8 471.5,541.1 469.0,541.4 466.5,541.7 464.1,541.9 461.6,542.5 459.1,543.5 456.6,544.5 454.1,545.5 451.6,546.4 449.1,547.2 446.6,547.9 444.1,548.7 441.6,549.4 439.1,549.0 436.6,548.4 434.1,547.7 431.6,547.0 429.1,546.0 426.6,545.1 424.1,544.2 421.6,543.2 419.1,542.3 416.6,541.3 414.1,526.4 411.6,509.0 409.1,505.5 406.6,507.5 404.1,513.4 401.6,542.1Z" fill="#F8766D" fill-opacity="0.4"/>
<path d="M401.4,508.0 403.9,487.1 406.4,478.4 408.9,475.5 411.4,478.6 413.9,492.3 416.4,507.7 418.9,512.3 421.4,513.8 423.9,514.6 426.4,515.5 428.9,516.3 431.4,517.1 433.9,517.5 436.4,517.2 438.9,516.9 441.4,516.0 443.9,515.0 446.4,514.2 448.9,513.5 451.4,512.8 453.9,511.9 456.4,510.9 458.9,509.8 461.4,508.3 463.9,507.6 466.4,507.6 468.9,507.5 471.4,507.4 473.9,507.3 476.4,507.4 478.9,507.9 481.4,508.6 483.9,509.4 486.4,510.2 488.9,510.9 491.4,511.4 493.9,511.8 496.4,512.1 498.9,512.5 501.4,512.5 503.9,512.2 506.4,511.8 508.9,511.5 511.4,511.0 513.9,510.2 516.4,509.3 518.9,508.5 521.4,507.7 523.9,506.8 526.4,506.0 528.9,505.2 531.4,504.4 533.9,503.5 536.4,502.5 538.9,501.5 541.4,500.5 543.9,499.5 546.4,498.5 548.9,497.5 551.4,496.5 553.9,495.5 556.3,494.4 558.8,493.3 561.3,492.1 563.8,490.8 566.3,489.5 568.8,488.2 571.3,486.6 573.8,484.8 576.3,483.1 578.8,481.3 581.3,479.6 583.8,477.8 586.3,476.1 588.8,474.3 591.3,472.6 593.8,470.8 596.3,469.1 598.8,467.3 601.3,465.6 603.8,463.6 606.3,461.6 608.8,459.6 611.3,457.6 613.8,455.6 616.3,453.6 618.8,451.6 621.3,449.6 623.8,447.5 626.3,445.3 628.8,443.0 631.3,440.8 633.8,438.5 636.3,436.2 638.8,433.8 641.3,431.5 643.8,429.1" fill="none" stroke="#CF5C98" stroke-width="2" stroke-linejoin="round"/>
<path d="M401.4,520.3 403.9,520.3 406.4,520.3 408.9,520.4 411.4,520.6 413.9,520.9 416.4,521.2 418.9,521.5 421.4,521.7 423.9,521.9 426.3,522.1 428.8,522.3 431.3,522.2 433.8,521.4 436.3,520.6 438.8,520.3 441.3,520.2 443.8,520.1 446.3,520.0 448.8,519.8 451.3,519.7 453.8,519.6 456.3,519.5 458.7,519.4 461.2,519.2 463.7,519.1 466.2,519.0 468.7,518.9 471.2,518.7 473.7,518.4 476.2,518.1 478.7,517.8 481.2,517.5 483.7,517.2 486.2,517.0 488.7,516.8 491.1,516.6 493.6,516.4 496.1,516.2 498.6,516.0 501.1,515.8 503.6,515.6 506.1,515.5 508.6,515.3 511.1,515.1 513.6,514.9 516.1,514.8 518.6,514.6 521.0,514.4 523.5,514.3 526.0,514.2 528.5,514.0 531.0,513.9 533.5,513.8 536.0,513.7 538.5,513.5 541.0,513.4 543.5,513.3 546.0,513.2 548.5,513.0 551.0,512.9 553.4,512.8 555.9,512.7 558.4,512.6 560.9,512.6 563.4,512.6 565.9,512.8 568.4,512.9 570.9,513.0 573.4,513.1 575.9,513.2 578.4,513.3 580.9,513.3 583.4,513.2 585.8,513.2 588.3,513.1 590.8,513.0 593.3,512.9 595.8,512.9 598.3,512.8 600.8,512.7 603.3,512.7 605.8,512.7 608.3,512.7 610.8,512.7 613.3,512.7 615.8,512.7 618.2,512.7 620.7,512.7 623.2,512.7 625.7,512.7 628.2,512.7 630.7,512.7 633.2,512.7 635.7,512.7 638.2,512.7 640.7,512.7 643.2,512.7 643.2,531.0 640.7,530.3 638.2,529.6 635.7,528.8 633.2,528.1 630.7,527.4 628.2,526.6 625.7,525.9 623.2,525.1 620.7,524.6 618.2,524.1 615.8,523.6 613.3,523.1 610.8,522.6 608.3,522.1 605.8,521.6 603.3,521.1 600.8,520.6 598.3,520.1 595.8,519.6 593.3,519.1 590.8,518.7 588.3,518.5 585.8,518.3 583.4,518.2 580.9,518.0 578.4,518.1 575.9,518.1 573.4,518.2 570.9,518.3 568.4,518.4 565.9,518.4 563.4,518.4 560.9,518.4 558.4,518.3 555.9,518.2 553.4,518.1 551.0,518.1 548.5,518.1 546.0,518.0 543.5,518.0 541.0,518.1 538.5,518.1 536.0,518.2 533.5,518.3 531.0,518.4 528.5,518.4 526.0,518.5 523.5,518.6 521.0,518.7 518.6,518.9 516.1,519.0 513.6,519.2 511.1,519.4 508.6,519.6 506.1,519.7 503.6,519.9 501.1,520.1 498.6,520.3 496.1,520.5 493.6,520.7 491.1,520.9 488.7,521.1 486.2,521.3 483.7,521.5 481.2,521.7 478.7,522.1 476.2,522.4 473.7,522.7 471.2,522.9 468.7,523.1 466.2,523.2 463.7,523.3 461.2,523.4 458.7,523.5 456.3,523.6 453.8,523.7 451.3,523.8 448.8,523.9 446.3,524.0 443.8,524.1 441.3,524.2 438.8,524.3 436.3,524.6 433.8,525.2 431.3,525.9 428.8,526.1 426.3,526.0 423.9,526.0 421.4,525.9 418.9,525.7 416.4,525.4 413.9,525.0 411.4,524.7 408.9,524.5 406.4,524.8 403.9,525.1 401.4,525.5Z" fill="#00BFC4" fill-opacity="0.4"/>
<path d="M401.4,522.9 403.9,522.6 406.4,522.2 408.9,521.9 411.4,522.3 413.9,522.8 416.4,523.3 418.9,523.7 421.4,524.0 423.9,524.0 426.3,524.0 428.8,524.0 431.3,523.7 433.8,522.9 436.3,522.1 438.8,521.8 441.3,521.7 443.8,521.6 446.3,521.6 448.8,521.5 451.3,521.4 453.8,521.4 456.3,521.3 458.7,521.2 461.2,521.1 463.7,521.1 466.2,521.0 468.7,520.9 471.2,520.8 473.7,520.7 476.2,520.5 478.7,520.3 481.2,520.0 483.7,519.8 486.2,519.6 488.7,519.5 491.1,519.3 493.6,519.1 496.1,518.9 498.6,518.8 501.1,518.6 503.6,518.3 506.1,518.1 508.6,517.8 511.1,517.6 513.6,517.3 516.1,517.1 518.6,516.8 521.0,516.6 523.5,516.5 526.0,516.4 528.5,516.3 531.0,516.2 533.5,516.2 536.0,516.1 538.5,516.0 541.0,515.9 543.5,515.9 546.0,515.8 548.5,515.7 551.0,515.6 553.4,515.6 555.9,515.5 558.4,515.5 560.9,515.6 563.4,515.7 565.9,515.8 568.4,515.9 570.9,515.9 573.4,515.9 575.9,515.9 578.4,515.9 580.9,515.9 583.4,515.9 585.8,516.0 588.3,516.0 590.8,516.1 593.3,516.3 595.8,516.5 598.3,516.7 600.8,516.9 603.3,517.1 605.8,517.4 608.3,517.7 610.8,518.0 613.3,518.3 615.8,518.6 618.2,518.8 620.7,519.1 623.2,519.3 625.7,519.7 628.2,520.0 630.7,520.4 633.2,520.7 635.7,521.0 638.2,521.3 640.7,521.6 643.2,521.8" fill="none" stroke="#1766C8" stroke-width="2" stroke-linejoin="round"/>
<rect x="400.6" y="562.1" width="104.2" height="7.2" fill="#1766C8"/>
<rect x="506.0" y="562.1" width="4.6" height="7.2" fill="#1766C8"/>
<rect x="514.1" y="562.1" width="3.5" height="7.2" fill="#1766C8"/>
<rect x="519.1" y="562.1" width="7.9" height="7.2" fill="#1766C8"/>
<rect x="530.5" y="562.1" width="2.3" height="7.2" fill="#1766C8"/>
<rect x="535.1" y="562.1" width="5.3" height="7.2" fill="#1766C8"/>
<rect x="545.7" y="562.1" width="5.2" height="7.2" fill="#1766C8"/>
<rect x="550.0" y="562.1" width="6.6" height="7.2" fill="#1766C8"/>
<rect x="561.7" y="562.1" width="4.4" height="7.2" fill="#1766C8"/>
<rect x="569.0" y="562.1" width="3.6" height="7.2" fill="#1766C8"/>
<rect x="577.0" y="562.1" width="3.7" height="7.2" fill="#1766C8"/>
<rect x="586.5" y="562.1" width="2.2" height="7.2" fill="#1766C8"/>
<rect x="594.5" y="562.1" width="2.2" height="7.2" fill="#1766C8"/>
<rect x="602.6" y="562.1" width="1.4" height="7.2" fill="#1766C8"/>
<rect x="611.3" y="562.1" width="2.2" height="7.2" fill="#1766C8"/>
<rect x="617.9" y="562.1" width="2.1" height="7.2" fill="#1766C8"/>
<rect x="632.5" y="562.1" width="1.5" height="7.2" fill="#1766C8"/>
<rect x="642.7" y="562.1" width="2.2" height="7.2" fill="#1766C8"/>
<rect x="544.5" y="562.1" width="1.2" height="7.2" fill="#CF5C98"/>
<rect x="410.9" y="562.1" width="1" height="7.2" fill="#CF5C98"/>
<rect x="416.0" y="562.1" width="1" height="7.2" fill="#CF5C98"/>
<rect x="423.4" y="562.1" width="1" height="7.2" fill="#CF5C98"/>
<rect x="424.4" y="562.1" width="1" height="7.2" fill="#CF5C98"/>
<rect x="440.1" y="562.1" width="1" height="7.2" fill="#CF5C98"/>
<rect x="444.8" y="562.1" width="1" height="7.2" fill="#CF5C98"/>
<rect x="457.1" y="562.1" width="1" height="7.2" fill="#CF5C98"/>
<rect x="463.8" y="562.1" width="1" height="7.2" fill="#CF5C98"/>
<rect x="472.8" y="562.1" width="1" height="7.2" fill="#CF5C98"/>
<rect x="479.8" y="562.1" width="1" height="7.2" fill="#CF5C98"/>
<rect x="488.3" y="562.1" width="1" height="7.2" fill="#CF5C98"/>
<rect x="495.5" y="562.1" width="1" height="7.2" fill="#CF5C98"/>
<rect x="500.0" y="562.1" width="1" height="7.2" fill="#CF5C98"/>
<rect x="501.4" y="562.1" width="1" height="7.2" fill="#CF5C98"/>
<rect x="511.6" y="562.1" width="1" height="7.2" fill="#CF5C98"/>
<rect x="514.2" y="562.1" width="1" height="7.2" fill="#CF5C98"/>
<rect x="531.8" y="562.1" width="1" height="7.2" fill="#CF5C98"/>
<rect x="539.3" y="562.1" width="1" height="7.2" fill="#CF5C98"/>
<rect x="552.2" y="562.1" width="1" height="7.2" fill="#CF5C98"/>
<rect x="552.5" y="562.1" width="1" height="7.2" fill="#CF5C98"/>
<rect x="555.5" y="562.1" width="1" height="7.2" fill="#CF5C98"/>
<rect x="559.7" y="562.1" width="1" height="7.2" fill="#CF5C98"/>
<rect x="567.7" y="562.1" width="1" height="7.2" fill="#CF5C98"/>
<rect x="612.0" y="562.1" width="1" height="7.2" fill="#CF5C98"/>
<rect x="627.6" y="562.1" width="1" height="7.2" fill="#CF5C98"/>
<rect x="635.6" y="562.1" width="1" height="7.2" fill="#CF5C98"/>
<rect x="644.0" y="562.1" width="1" height="7.2" fill="#CF5C98"/>
</g>
<rect x="388.4" y="329.5" width="268.0" height="239.79999999999995" fill="none" stroke="#333" stroke-width="1.6"/>
<rect x="656.4" y="329.5" width="26.899999999999977" height="239.79999999999995" fill="#D9D9D9" stroke="#333" stroke-width="1.6"/>
<text transform="translate(662.5,449.0) rotate(90)" text-anchor="middle" font-weight="bold" font-size="14.2" fill="#1A1A1A">D-Dimer</text>
<line x1="383.9" y1="529.3" x2="388.4" y2="529.3" stroke="#333" stroke-width="1.4"/>
<text transform="translate(380.2,535.3) scale(0.915,1)" text-anchor="end" font-size="15.5" fill="#4D4D4D">0</text>
<line x1="383.9" y1="471.9" x2="388.4" y2="471.9" stroke="#333" stroke-width="1.4"/>
<text transform="translate(380.2,477.9) scale(0.915,1)" text-anchor="end" font-size="15.5" fill="#4D4D4D">10000</text>
<line x1="383.9" y1="414.4" x2="388.4" y2="414.4" stroke="#333" stroke-width="1.4"/>
<text transform="translate(380.2,420.4) scale(0.915,1)" text-anchor="end" font-size="15.5" fill="#4D4D4D">20000</text>
<line x1="383.9" y1="357.0" x2="388.4" y2="357.0" stroke="#333" stroke-width="1.4"/>
<text transform="translate(380.2,363.0) scale(0.915,1)" text-anchor="end" font-size="15.5" fill="#4D4D4D">30000</text>
<clipPath id="clip20"><rect x="29.8" y="590.3" width="268.2" height="240.10000000000002"/></clipPath>
<g stroke="#EBEBEB" stroke-width="1.1">
<line x1="41.4" y1="590.3" x2="41.4" y2="830.4"/>
<line x1="81.2" y1="590.3" x2="81.2" y2="830.4"/>
<line x1="121.1" y1="590.3" x2="121.1" y2="830.4"/>
<line x1="160.9" y1="590.3" x2="160.9" y2="830.4"/>
<line x1="200.8" y1="590.3" x2="200.8" y2="830.4"/>
<line x1="240.7" y1="590.3" x2="240.7" y2="830.4"/>
<line x1="280.5" y1="590.3" x2="280.5" y2="830.4"/>
<line x1="29.8" y1="788.6" x2="298.0" y2="788.6"/>
<line x1="29.8" y1="726.0" x2="298.0" y2="726.0"/>
<line x1="29.8" y1="663.3" x2="298.0" y2="663.3"/>
<line x1="29.8" y1="600.7" x2="298.0" y2="600.7"/>
</g>
<g clip-path="url(#clip20)">
<path d="M41.3,703.4 43.8,704.6 46.3,705.9 48.8,707.4 51.3,709.3 53.9,711.5 56.4,714.6 58.9,717.9 61.4,719.9 63.9,720.5 66.4,720.0 68.9,718.5 71.4,716.0 73.9,712.9 76.4,709.4 78.9,704.5 81.4,698.1 83.9,691.7 86.4,685.6 88.9,678.2 91.4,669.1 93.9,659.9 96.4,652.4 98.9,646.6 101.4,641.9 103.9,637.8 106.4,634.3 108.9,631.9 111.4,629.7 113.9,627.8 116.4,626.9 118.9,626.4 121.4,626.0 123.9,625.7 126.5,625.5 129.0,625.3 131.5,625.2 134.0,625.2 136.5,625.2 139.0,625.1 141.5,624.9 144.0,623.8 146.5,622.6 149.0,621.3 151.5,620.0 154.0,618.2 156.5,616.2 159.0,614.2 161.5,612.2 164.0,610.5 166.5,609.0 169.0,607.5 171.5,606.0 174.0,604.9 176.5,604.4 179.0,604.0 181.5,603.6 184.0,603.3 186.5,603.2 189.0,603.2 191.5,603.2 194.0,603.3 196.5,603.7 199.1,604.2 201.6,605.0 204.1,606.1 206.6,607.6 209.1,609.3 211.6,611.1 214.1,613.3 216.6,615.6 219.1,617.8 221.6,620.1 224.1,622.6 226.6,625.1 229.1,627.6 231.6,630.1 234.1,632.6 236.6,635.1 239.1,637.6 241.6,640.1 244.1,642.6 246.6,645.1 249.1,647.6 251.6,650.1 254.1,652.7 256.6,655.2 259.1,657.7 261.6,660.2 264.1,662.7 266.6,665.2 269.1,667.7 271.7,670.2 274.2,672.7 276.7,675.4 279.2,678.2 281.7,681.0 284.2,683.8 284.2,822.3 281.7,806.1 279.2,792.6 276.7,782.9 274.2,774.6 271.7,767.6 269.1,761.0 266.6,754.8 264.1,748.9 261.6,742.8 259.1,736.1 256.6,729.2 254.1,722.5 251.6,717.1 249.1,712.5 246.6,708.0 244.1,703.5 241.6,699.5 239.1,695.9 236.6,692.4 234.1,688.9 231.6,685.7 229.1,683.0 226.6,680.5 224.1,678.0 221.6,675.6 219.1,673.7 216.6,671.9 214.1,670.2 211.6,668.5 209.1,667.1 206.6,666.0 204.1,664.7 201.6,663.3 199.1,661.7 196.5,660.3 194.0,659.4 191.5,658.9 189.0,658.6 186.5,658.3 184.0,658.2 181.5,658.5 179.0,658.7 176.5,659.1 174.0,659.6 171.5,660.5 169.0,661.6 166.5,663.1 164.0,665.0 161.5,667.0 159.0,669.0 156.5,671.0 154.0,672.7 151.5,674.1 149.0,675.4 146.5,676.5 144.0,677.5 141.5,678.5 139.0,679.4 136.5,680.3 134.0,681.0 131.5,681.8 129.0,682.5 126.5,683.3 123.9,684.0 121.4,684.7 118.9,684.7 116.4,684.3 113.9,684.2 111.4,684.7 108.9,686.1 106.4,687.9 103.9,690.1 101.4,693.1 98.9,697.4 96.4,703.4 93.9,711.2 91.4,720.4 88.9,729.8 86.4,738.2 83.9,745.0 81.4,751.0 78.9,756.2 76.4,760.3 73.9,764.4 71.4,768.5 68.9,772.4 66.4,776.0 63.9,778.7 61.4,779.1 58.9,776.8 56.4,773.0 53.9,768.1 51.3,763.1 48.8,758.2 46.3,754.1 43.8,754.8 41.3,760.6Z" fill="#F8766D" fill-opacity="0.4"/>
<path d="M41.3,730.2 43.8,729.7 46.3,730.7 48.8,733.3 51.3,736.6 53.9,740.4 56.4,745.1 58.9,749.8 61.4,752.6 63.9,752.5 66.4,749.8 68.9,746.8 71.4,743.8 73.9,740.7 76.4,736.8 78.9,731.9 81.4,724.9 83.9,717.0 86.4,709.3 88.9,700.8 91.4,691.6 93.9,684.3 96.4,678.9 98.9,674.0 101.4,669.1 103.9,664.7 106.4,660.7 108.9,657.0 111.4,654.3 113.9,653.5 116.4,654.3 118.9,655.6 121.4,656.1 123.9,655.7 126.5,655.2 129.0,654.5 131.5,653.8 134.0,653.2 136.5,652.6 139.0,652.2 141.5,651.9 144.0,651.6 146.5,650.8 149.0,649.7 151.5,648.6 154.0,647.3 156.5,645.8 159.0,643.9 161.5,641.7 164.0,639.3 166.5,636.9 169.0,634.9 171.5,633.4 174.0,632.5 176.5,632.0 179.0,631.5 181.5,631.0 184.0,630.6 186.5,630.5 189.0,630.5 191.5,630.5 194.0,630.6 196.5,631.3 199.1,632.3 201.6,633.3 204.1,634.5 206.6,635.8 209.1,637.1 211.6,638.6 214.1,640.3 216.6,642.1 219.1,643.8 221.6,645.8 224.1,648.2 226.6,650.7 229.1,653.2 231.6,655.9 234.1,659.5 236.6,663.5 239.1,667.5 241.6,671.5 244.1,675.5 246.6,679.5 249.1,683.5 251.6,687.5 254.1,691.5 256.6,695.5 259.1,699.5 261.6,703.6 264.1,708.0 266.6,713.3 269.1,718.9 271.7,724.5 274.2,729.8 276.7,734.8 279.2,740.2 281.7,746.5 284.2,753.0" fill="none" stroke="#CF5C98" stroke-width="2" stroke-linejoin="round"/>
<path d="M41.3,699.3 43.8,702.7 46.3,704.3 48.8,705.2 51.3,706.0 53.8,706.7 56.3,707.3 58.8,707.8 61.3,708.1 63.8,708.3 66.3,708.5 68.8,708.6 71.2,708.6 73.7,708.6 76.2,708.6 78.7,708.6 81.2,708.6 83.7,708.6 86.2,708.6 88.7,708.6 91.2,708.6 93.7,708.4 96.2,708.1 98.7,707.3 101.2,706.1 103.6,704.7 106.1,702.8 108.6,700.7 111.1,698.6 113.6,696.3 116.1,694.0 118.6,691.7 121.1,689.6 123.6,688.0 126.1,686.5 128.6,685.0 131.1,683.5 133.6,681.6 136.0,679.5 138.5,677.3 141.0,675.2 143.5,673.3 146.0,671.4 148.5,669.7 151.0,668.1 153.5,666.5 156.0,665.1 158.5,663.8 161.0,662.6 163.5,661.3 166.0,660.1 168.5,658.9 170.9,657.9 173.4,657.0 175.9,656.4 178.4,655.9 180.9,655.5 183.4,655.2 185.9,654.9 188.4,654.8 190.9,654.7 193.4,654.6 195.9,654.4 198.4,654.4 200.9,654.7 203.3,655.1 205.8,655.5 208.3,655.8 210.8,656.1 213.3,656.3 215.8,656.6 218.3,656.8 220.8,657.1 223.3,657.2 225.8,657.3 228.3,657.5 230.8,657.6 233.3,657.7 235.7,657.8 238.2,658.0 240.7,658.1 243.2,658.2 245.7,658.2 248.2,658.2 250.7,658.2 253.2,658.2 255.7,658.2 258.2,658.2 260.7,658.1 263.2,657.9 265.7,657.7 268.1,657.5 270.6,657.3 273.1,657.0 275.6,656.5 278.1,656.0 280.6,655.5 283.1,655.0 283.1,788.2 280.6,783.2 278.1,778.2 275.6,773.3 273.1,768.7 270.6,764.6 268.1,760.5 265.7,756.7 263.2,752.9 260.7,749.1 258.2,744.7 255.7,739.7 253.2,735.2 250.7,731.8 248.2,728.8 245.7,725.8 243.2,722.9 240.7,720.4 238.2,718.2 235.7,715.9 233.3,713.7 230.8,711.8 228.3,710.3 225.8,708.8 223.3,707.3 220.8,706.0 218.3,704.9 215.8,703.9 213.3,702.9 210.8,701.9 208.3,700.9 205.8,700.0 203.3,699.1 200.9,698.3 198.4,697.7 195.9,697.2 193.4,696.9 190.9,696.6 188.4,696.3 185.9,696.0 183.4,695.7 180.9,695.6 178.4,695.5 175.9,695.5 173.4,695.5 170.9,695.7 168.5,696.0 166.0,696.6 163.5,697.3 161.0,698.2 158.5,699.4 156.0,700.7 153.5,702.2 151.0,703.7 148.5,705.1 146.0,706.6 143.5,708.1 141.0,709.6 138.5,711.1 136.0,712.6 133.6,714.2 131.1,716.0 128.6,718.0 126.1,719.8 123.6,721.9 121.1,724.3 118.6,726.6 116.1,728.3 113.6,729.7 111.1,731.1 108.6,732.6 106.1,734.1 103.6,735.6 101.2,737.0 98.7,738.1 96.2,739.1 93.7,739.6 91.2,739.8 88.7,740.0 86.2,740.1 83.7,740.1 81.2,740.1 78.7,740.1 76.2,740.1 73.7,740.2 71.2,740.4 68.8,740.8 66.3,741.5 63.8,742.4 61.3,742.1 58.8,740.5 56.3,738.7 53.8,737.0 51.3,735.5 48.8,734.0 46.3,732.7 43.8,731.5 41.3,730.2Z" fill="#00BFC4" fill-opacity="0.4"/>
<path d="M41.3,716.2 43.8,716.8 46.3,717.5 48.8,718.4 51.3,719.3 53.9,720.4 56.4,722.1 58.9,723.9 61.4,725.2 63.9,725.2 66.4,724.9 68.9,724.7 71.4,724.6 73.9,724.4 76.4,724.4 78.9,724.4 81.4,724.4 83.9,724.4 86.4,724.4 88.9,724.4 91.4,724.4 93.9,724.4 96.4,724.1 98.9,723.0 101.4,721.6 103.9,720.0 106.4,718.6 108.9,717.4 111.4,715.9 113.9,713.9 116.4,711.4 118.9,708.7 121.4,706.4 123.9,704.7 126.5,703.1 129.0,701.2 131.5,699.3 134.0,697.4 136.5,695.6 139.0,693.9 141.5,692.1 144.0,690.4 146.5,688.6 149.0,686.9 151.5,685.3 154.0,683.8 156.5,682.4 159.0,681.4 161.5,680.4 164.0,679.6 166.5,678.8 169.0,677.9 171.5,677.0 174.0,676.1 176.5,675.6 179.0,675.2 181.5,675.0 184.0,675.0 186.5,675.1 189.0,675.3 191.5,675.4 194.0,675.5 196.5,675.7 199.1,676.1 201.6,676.6 204.1,677.1 206.6,677.6 209.1,678.1 211.6,678.7 214.1,679.5 216.6,680.2 219.1,681.0 221.6,681.8 224.1,682.7 226.6,683.7 229.1,684.7 231.6,685.8 234.1,687.0 236.6,688.2 239.1,689.5 241.6,690.7 244.1,692.3 246.6,694.0 249.1,695.8 251.6,697.5 254.1,699.3 256.6,701.0 259.1,702.8 261.6,704.5 264.1,706.3 266.6,708.0 269.1,709.8 271.7,711.5 274.2,713.3 276.7,715.3 279.2,717.5 281.7,719.6 284.2,721.7" fill="none" stroke="#1766C8" stroke-width="2" stroke-linejoin="round"/>
<rect x="40.9" y="823.2" width="116.7" height="7.2" fill="#1766C8"/>
<rect x="158.8" y="823.2" width="8.1" height="7.2" fill="#1766C8"/>
<rect x="169.9" y="823.2" width="6.4" height="7.2" fill="#1766C8"/>
<rect x="177.4" y="823.2" width="5.3" height="7.2" fill="#1766C8"/>
<rect x="185.6" y="823.2" width="6.4" height="7.2" fill="#1766C8"/>
<rect x="193.8" y="823.2" width="1.7" height="7.2" fill="#1766C8"/>
<rect x="196.1" y="823.2" width="2.4" height="7.2" fill="#1766C8"/>
<rect x="201.4" y="823.2" width="4.6" height="7.2" fill="#1766C8"/>
<rect x="209.6" y="823.2" width="4.6" height="7.2" fill="#1766C8"/>
<rect x="218.0" y="823.2" width="0.9" height="7.2" fill="#1766C8"/>
<rect x="219.5" y="823.2" width="2.9" height="7.2" fill="#1766C8"/>
<rect x="227.0" y="823.2" width="3.9" height="7.2" fill="#1766C8"/>
<rect x="235.3" y="823.2" width="2.1" height="7.2" fill="#1766C8"/>
<rect x="242.6" y="823.2" width="2.9" height="7.2" fill="#1766C8"/>
<rect x="252.0" y="823.2" width="2.2" height="7.2" fill="#1766C8"/>
<rect x="259.3" y="823.2" width="3.0" height="7.2" fill="#1766C8"/>
<rect x="268.0" y="823.2" width="2.3" height="7.2" fill="#1766C8"/>
<rect x="273.2" y="823.2" width="4.4" height="7.2" fill="#1766C8"/>
<rect x="283.4" y="823.2" width="2.2" height="7.2" fill="#1766C8"/>
<rect x="41.6" y="823.2" width="1" height="7.2" fill="#CF5C98"/>
<rect x="47.8" y="823.2" width="1" height="7.2" fill="#CF5C98"/>
<rect x="50.1" y="823.2" width="1" height="7.2" fill="#CF5C98"/>
<rect x="73.9" y="823.2" width="1" height="7.2" fill="#CF5C98"/>
<rect x="77.2" y="823.2" width="1" height="7.2" fill="#CF5C98"/>
<rect x="78.6" y="823.2" width="1" height="7.2" fill="#CF5C98"/>
<rect x="81.9" y="823.2" width="1" height="7.2" fill="#CF5C98"/>
<rect x="85.4" y="823.2" width="1" height="7.2" fill="#CF5C98"/>
<rect x="104.1" y="823.2" width="1" height="7.2" fill="#CF5C98"/>
<rect x="106.4" y="823.2" width="1" height="7.2" fill="#CF5C98"/>
<rect x="108.7" y="823.2" width="1" height="7.2" fill="#CF5C98"/>
<rect x="116.0" y="823.2" width="1" height="7.2" fill="#CF5C98"/>
<rect x="125.0" y="823.2" width="1" height="7.2" fill="#CF5C98"/>
<rect x="129.7" y="823.2" width="1" height="7.2" fill="#CF5C98"/>
<rect x="136.7" y="823.2" width="1" height="7.2" fill="#CF5C98"/>
<rect x="145.1" y="823.2" width="1" height="7.2" fill="#CF5C98"/>
<rect x="153.0" y="823.2" width="1" height="7.2" fill="#CF5C98"/>
<rect x="161.8" y="823.2" width="1" height="7.2" fill="#CF5C98"/>
<rect x="170.0" y="823.2" width="1" height="7.2" fill="#CF5C98"/>
<rect x="181.6" y="823.2" width="1" height="7.2" fill="#CF5C98"/>
<rect x="184.6" y="823.2" width="1" height="7.2" fill="#CF5C98"/>
<rect x="192.4" y="823.2" width="1" height="7.2" fill="#CF5C98"/>
<rect x="197.0" y="823.2" width="1" height="7.2" fill="#CF5C98"/>
<rect x="201.2" y="823.2" width="1" height="7.2" fill="#CF5C98"/>
<rect x="221.4" y="823.2" width="1" height="7.2" fill="#CF5C98"/>
<rect x="252.5" y="823.2" width="1" height="7.2" fill="#CF5C98"/>
<rect x="261.4" y="823.2" width="1" height="7.2" fill="#CF5C98"/>
<rect x="268.5" y="823.2" width="1" height="7.2" fill="#CF5C98"/>
<rect x="276.0" y="823.2" width="1" height="7.2" fill="#CF5C98"/>
<rect x="284.0" y="823.2" width="1" height="7.2" fill="#CF5C98"/>
<rect x="284.7" y="823.2" width="1" height="7.2" fill="#CF5C98"/>
</g>
<rect x="29.8" y="590.3" width="268.2" height="240.10000000000002" fill="none" stroke="#333" stroke-width="1.6"/>
<rect x="298.0" y="590.3" width="26.80000000000001" height="240.10000000000002" fill="#D9D9D9" stroke="#333" stroke-width="1.6"/>
<text transform="translate(304.1,709.9) rotate(90)" text-anchor="middle" font-weight="bold" font-size="14.2" fill="#1A1A1A">GGT</text>
<line x1="25.3" y1="788.6" x2="29.8" y2="788.6" stroke="#333" stroke-width="1.4"/>
<text transform="translate(20.5,794.6) scale(0.915,1)" text-anchor="end" font-size="15.5" fill="#4D4D4D">0</text>
<line x1="25.3" y1="726.0" x2="29.8" y2="726.0" stroke="#333" stroke-width="1.4"/>
<text transform="translate(20.5,732.0) scale(0.915,1)" text-anchor="end" font-size="15.5" fill="#4D4D4D">1</text>
<line x1="25.3" y1="663.3" x2="29.8" y2="663.3" stroke="#333" stroke-width="1.4"/>
<text transform="translate(20.5,669.3) scale(0.915,1)" text-anchor="end" font-size="15.5" fill="#4D4D4D">2</text>
<line x1="25.3" y1="600.7" x2="29.8" y2="600.7" stroke="#333" stroke-width="1.4"/>
<text transform="translate(20.5,606.7) scale(0.915,1)" text-anchor="end" font-size="15.5" fill="#4D4D4D">3</text>
<clipPath id="clip21"><rect x="388.4" y="590.3" width="268.0" height="240.10000000000002"/></clipPath>
<g stroke="#EBEBEB" stroke-width="1.1">
<line x1="401.0" y1="590.3" x2="401.0" y2="830.4"/>
<line x1="440.9" y1="590.3" x2="440.9" y2="830.4"/>
<line x1="480.7" y1="590.3" x2="480.7" y2="830.4"/>
<line x1="520.5" y1="590.3" x2="520.5" y2="830.4"/>
<line x1="560.4" y1="590.3" x2="560.4" y2="830.4"/>
<line x1="600.2" y1="590.3" x2="600.2" y2="830.4"/>
<line x1="640.1" y1="590.3" x2="640.1" y2="830.4"/>
<line x1="388.4" y1="793.2" x2="656.4" y2="793.2"/>
<line x1="388.4" y1="741.3" x2="656.4" y2="741.3"/>
<line x1="388.4" y1="689.4" x2="656.4" y2="689.4"/>
<line x1="388.4" y1="637.5" x2="656.4" y2="637.5"/>
</g>
<g clip-path="url(#clip21)">
<path d="M401.4,713.2 403.9,712.4 406.4,711.3 408.9,707.8 411.4,702.2 413.9,694.3 416.4,687.0 418.9,681.6 421.4,676.6 423.9,672.0 426.4,668.9 428.9,668.2 431.4,671.3 433.9,677.1 436.4,684.1 438.9,686.8 441.4,686.9 443.9,686.3 446.4,684.5 448.9,682.4 451.4,680.8 453.9,679.6 456.4,678.5 458.9,678.0 461.4,677.5 463.9,676.8 466.4,675.8 468.9,675.2 471.4,675.4 473.9,676.0 476.4,676.7 478.9,678.1 481.4,680.1 483.9,682.4 486.4,684.6 488.9,686.7 491.4,688.5 493.9,689.6 496.4,690.2 498.9,690.8 501.4,691.3 503.9,691.6 506.4,691.8 508.9,692.1 511.4,692.3 513.9,692.6 516.4,692.8 518.9,693.1 521.4,693.3 523.9,693.5 526.4,693.6 528.9,693.8 531.4,693.9 533.9,694.1 536.4,694.3 538.9,694.5 541.4,694.7 543.9,694.8 546.4,694.7 548.9,694.6 551.4,694.5 553.9,694.3 556.3,693.8 558.8,693.4 561.3,692.9 563.8,692.3 566.3,691.6 568.8,690.8 571.3,690.0 573.8,689.2 576.3,688.3 578.8,687.4 581.3,686.3 583.8,684.8 586.3,683.3 588.8,681.8 591.3,680.2 593.8,678.3 596.3,676.3 598.8,674.3 601.3,672.1 603.8,669.1 606.3,665.9 608.8,662.7 611.3,659.3 613.8,655.0 616.3,650.1 618.8,645.1 621.3,640.1 623.8,634.9 626.3,629.4 628.8,623.9 631.3,618.4 633.8,613.1 636.3,608.0 638.8,603.1 641.3,598.2 643.8,593.2 643.8,824.4 641.3,820.2 638.8,816.1 636.3,811.9 633.8,807.8 631.3,803.7 628.8,799.7 626.3,795.7 623.8,791.8 621.3,788.1 618.8,784.6 616.3,781.1 613.8,777.6 611.3,774.5 608.8,771.9 606.3,769.4 603.8,767.0 601.3,764.7 598.8,763.1 596.3,761.6 593.8,760.1 591.3,758.6 588.8,757.3 586.3,756.0 583.8,754.8 581.3,753.6 578.8,752.7 576.3,752.0 573.8,751.3 571.3,750.7 568.8,750.2 566.3,749.8 563.8,749.6 561.3,749.4 558.8,749.4 556.3,749.4 553.9,749.4 551.4,749.3 548.9,749.1 546.4,749.0 543.9,748.8 541.4,748.6 538.9,748.3 536.4,748.1 533.9,747.8 531.4,747.7 528.9,747.7 526.4,747.7 523.9,747.7 521.4,747.7 518.9,748.0 516.4,748.2 513.9,748.5 511.4,748.6 508.9,748.4 506.4,748.1 503.9,747.7 501.4,747.4 498.9,747.0 496.4,746.4 493.9,744.6 491.4,742.4 488.9,740.2 486.4,737.9 483.9,735.8 481.4,733.6 478.9,732.0 476.4,731.6 473.9,731.8 471.4,732.1 468.9,732.4 466.4,732.9 463.9,733.4 461.4,734.1 458.9,735.0 456.4,736.1 453.9,737.5 451.4,739.2 448.9,742.3 446.4,746.2 443.9,749.2 441.4,750.5 438.9,749.3 436.4,745.5 433.9,740.3 431.4,736.4 428.9,733.5 426.4,732.0 423.9,732.2 421.4,733.7 418.9,735.6 416.4,737.7 413.9,739.8 411.4,742.2 408.9,746.5 406.4,754.5 403.9,767.7 401.4,783.9Z" fill="#F8766D" fill-opacity="0.4"/>
<path d="M401.4,748.7 403.9,740.0 406.4,732.7 408.9,726.3 411.4,720.5 413.9,716.3 416.4,712.8 418.9,709.8 421.4,706.9 423.9,703.6 426.4,700.5 428.9,701.0 431.4,705.3 433.9,711.2 436.4,715.9 438.9,718.5 441.4,718.5 443.9,716.9 446.4,715.0 448.9,712.9 451.4,711.0 453.9,709.8 456.4,708.9 458.9,707.9 461.4,706.7 463.9,705.5 466.4,704.5 468.9,703.8 471.4,703.7 473.9,704.3 476.4,705.0 478.9,705.8 481.4,706.8 483.9,707.8 486.4,709.5 488.9,712.3 491.4,715.1 493.9,717.2 496.4,718.7 498.9,719.2 501.4,719.4 503.9,719.7 506.4,719.9 508.9,720.2 511.4,720.3 513.9,720.2 516.4,720.0 518.9,719.8 521.4,719.6 523.9,719.6 526.4,719.7 528.9,719.8 531.4,719.9 533.9,720.0 536.4,720.4 538.9,720.9 541.4,721.4 543.9,721.7 546.4,721.9 548.9,722.0 551.4,722.0 553.9,721.8 556.3,721.5 558.8,721.1 561.3,720.8 563.8,720.6 566.3,720.5 568.8,720.4 571.3,720.2 573.8,719.8 576.3,719.5 578.8,719.1 581.3,718.8 583.8,718.6 586.3,718.3 588.8,718.1 591.3,717.7 593.8,717.3 596.3,716.8 598.8,716.3 601.3,715.8 603.8,715.4 606.3,715.0 608.8,714.6 611.3,714.2 613.8,713.7 616.3,713.2 618.8,712.7 621.3,712.2 623.8,711.8 626.3,711.4 628.8,711.1 631.3,710.7 633.8,710.4 636.3,710.1 638.8,709.8 641.3,709.6 643.8,709.3" fill="none" stroke="#CF5C98" stroke-width="2" stroke-linejoin="round"/>
<path d="M400.9,730.2 403.4,729.5 405.9,728.9 408.4,728.2 410.9,727.7 413.4,727.5 415.9,727.2 418.4,727.0 420.9,726.7 423.4,726.6 425.9,726.5 428.4,726.3 430.9,726.2 433.4,726.1 435.9,726.1 438.4,726.1 440.9,726.1 443.4,726.1 445.9,725.9 448.4,725.5 450.9,725.2 453.4,724.8 455.9,724.4 458.4,723.8 460.9,723.2 463.4,722.6 465.9,722.0 468.3,721.4 470.8,720.8 473.3,720.2 475.8,719.6 478.3,718.6 480.8,716.8 483.3,714.4 485.8,712.3 488.3,710.6 490.8,709.0 493.3,707.7 495.8,706.7 498.3,705.8 500.8,705.1 503.3,704.6 505.8,704.2 508.3,703.8 510.8,703.4 513.3,703.2 515.8,703.0 518.3,702.8 520.8,702.6 523.3,702.8 525.8,703.1 528.3,703.4 530.8,703.8 533.3,704.2 535.8,704.7 538.3,705.2 540.8,705.7 543.3,706.2 545.8,706.7 548.3,707.2 550.8,707.7 553.3,708.2 555.8,708.5 558.3,708.8 560.8,708.9 563.3,709.0 565.7,709.1 568.2,709.2 570.7,709.5 573.2,709.9 575.7,710.3 578.2,710.7 580.7,711.0 583.2,711.3 585.7,711.5 588.2,711.7 590.7,711.9 593.2,712.0 595.7,712.2 598.2,712.3 600.7,712.4 603.2,712.4 605.7,712.3 608.2,712.1 610.7,712.0 613.2,711.9 615.7,711.7 618.2,711.6 620.7,711.5 623.2,711.4 625.7,711.3 628.2,711.2 630.7,711.1 633.2,711.0 635.7,710.9 638.2,710.7 640.7,710.6 643.2,710.4 643.2,766.4 640.7,764.3 638.2,762.2 635.7,760.1 633.2,758.2 630.7,756.6 628.2,755.1 625.7,753.6 623.2,752.1 620.7,750.6 618.2,749.1 615.7,747.6 613.2,746.1 610.7,744.6 608.2,743.1 605.7,741.6 603.2,740.1 600.7,738.8 598.2,737.8 595.7,736.8 593.2,735.8 590.7,734.9 588.2,734.1 585.7,733.3 583.2,732.6 580.7,731.9 578.2,731.3 575.7,730.8 573.2,730.3 570.7,729.8 568.2,729.3 565.7,728.8 563.3,728.3 560.8,727.8 558.3,727.3 555.8,726.8 553.3,726.3 550.8,725.8 548.3,725.3 545.8,724.8 543.3,724.3 540.8,723.8 538.3,723.3 535.8,722.8 533.3,722.3 530.8,722.0 528.3,721.7 525.8,721.5 523.3,721.2 520.8,721.1 518.3,721.0 515.8,721.0 513.3,721.0 510.8,721.0 508.3,721.0 505.8,721.0 503.3,721.0 500.8,721.1 498.3,721.6 495.8,722.2 493.3,722.9 490.8,724.5 488.3,727.2 485.8,730.0 483.3,732.6 480.8,735.0 478.3,736.8 475.8,737.6 473.3,738.0 470.8,738.5 468.3,738.9 465.9,739.4 463.4,739.9 460.9,740.5 458.4,741.3 455.9,742.0 453.4,742.8 450.9,743.5 448.4,744.0 445.9,744.2 443.4,744.2 440.9,744.2 438.4,744.0 435.9,743.6 433.4,743.3 430.9,743.5 428.4,743.9 425.9,744.3 423.4,744.6 420.9,744.6 418.4,744.3 415.9,744.0 413.4,743.6 410.9,743.3 408.4,743.4 405.9,743.9 403.4,744.2 400.9,744.2Z" fill="#00BFC4" fill-opacity="0.4"/>
<path d="M400.9,738.9 403.4,737.5 405.9,736.4 408.4,735.8 410.9,735.5 413.4,735.4 415.9,735.4 418.4,735.4 420.9,735.4 423.4,735.4 425.9,735.4 428.4,735.3 430.9,735.1 433.4,734.6 435.9,734.0 438.4,734.2 440.9,734.4 443.4,734.5 445.9,734.6 448.4,734.7 450.9,734.8 453.4,734.6 455.9,734.2 458.4,733.3 460.9,732.1 463.4,731.2 465.9,730.6 468.3,730.1 470.8,729.4 473.3,728.6 475.8,728.1 478.3,727.6 480.8,726.4 483.3,724.2 485.8,721.8 488.3,719.7 490.8,717.7 493.3,716.2 495.8,715.3 498.3,714.3 500.8,713.6 503.3,713.3 505.8,713.0 508.3,712.8 510.8,712.6 513.3,712.4 515.8,712.2 518.3,712.1 520.8,712.0 523.3,712.0 525.8,712.1 528.3,712.3 530.8,712.4 533.3,712.8 535.8,713.2 538.3,713.7 540.8,714.2 543.3,714.7 545.8,715.2 548.3,715.7 550.8,716.2 553.3,716.7 555.8,717.1 558.3,717.4 560.8,717.7 563.3,718.1 565.7,718.4 568.2,718.7 570.7,719.1 573.2,719.6 575.7,720.1 578.2,720.6 580.7,721.2 583.2,721.9 585.7,722.7 588.2,723.4 590.7,724.1 593.2,724.8 595.7,725.4 598.2,726.0 600.7,726.6 603.2,727.2 605.7,727.9 608.2,728.5 610.7,729.2 613.2,729.8 615.7,730.5 618.2,731.1 620.7,731.8 623.2,732.4 625.7,733.1 628.2,733.8 630.7,734.5 633.2,735.2 635.7,736.0 638.2,736.9 640.7,737.7 643.2,738.5" fill="none" stroke="#1766C8" stroke-width="2" stroke-linejoin="round"/>
<rect x="400.6" y="823.2" width="117.4" height="7.2" fill="#1766C8"/>
<rect x="518.7" y="823.2" width="7.8" height="7.2" fill="#1766C8"/>
<rect x="528.5" y="823.2" width="37.5" height="7.2" fill="#1766C8"/>
<rect x="567.5" y="823.2" width="4.5" height="7.2" fill="#1766C8"/>
<rect x="576.3" y="823.2" width="5.8" height="7.2" fill="#1766C8"/>
<rect x="585.8" y="823.2" width="2.9" height="7.2" fill="#1766C8"/>
<rect x="591.6" y="823.2" width="5.1" height="7.2" fill="#1766C8"/>
<rect x="603.3" y="823.2" width="2.9" height="7.2" fill="#1766C8"/>
<rect x="611.3" y="823.2" width="2.2" height="7.2" fill="#1766C8"/>
<rect x="619.3" y="823.2" width="1.5" height="7.2" fill="#1766C8"/>
<rect x="626.6" y="823.2" width="2.2" height="7.2" fill="#1766C8"/>
<rect x="631.0" y="823.2" width="2.2" height="7.2" fill="#1766C8"/>
<rect x="637.6" y="823.2" width="1.5" height="7.2" fill="#1766C8"/>
<rect x="642.7" y="823.2" width="2.2" height="7.2" fill="#1766C8"/>
<rect x="410.9" y="823.2" width="1" height="7.2" fill="#CF5C98"/>
<rect x="416.0" y="823.2" width="1" height="7.2" fill="#CF5C98"/>
<rect x="423.4" y="823.2" width="1" height="7.2" fill="#CF5C98"/>
<rect x="440.1" y="823.2" width="1" height="7.2" fill="#CF5C98"/>
<rect x="444.8" y="823.2" width="1" height="7.2" fill="#CF5C98"/>
<rect x="457.1" y="823.2" width="1" height="7.2" fill="#CF5C98"/>
<rect x="463.8" y="823.2" width="1" height="7.2" fill="#CF5C98"/>
<rect x="472.8" y="823.2" width="1" height="7.2" fill="#CF5C98"/>
<rect x="480.3" y="823.2" width="1" height="7.2" fill="#CF5C98"/>
<rect x="487.9" y="823.2" width="1" height="7.2" fill="#CF5C98"/>
<rect x="492.6" y="823.2" width="1" height="7.2" fill="#CF5C98"/>
<rect x="496.1" y="823.2" width="1" height="7.2" fill="#CF5C98"/>
<rect x="499.6" y="823.2" width="1" height="7.2" fill="#CF5C98"/>
<rect x="502.5" y="823.2" width="1" height="7.2" fill="#CF5C98"/>
<rect x="509.5" y="823.2" width="1" height="7.2" fill="#CF5C98"/>
<rect x="513.6" y="823.2" width="1" height="7.2" fill="#CF5C98"/>
<rect x="516.0" y="823.2" width="1" height="7.2" fill="#CF5C98"/>
<rect x="519.5" y="823.2" width="1" height="7.2" fill="#CF5C98"/>
<rect x="531.7" y="823.2" width="1" height="7.2" fill="#CF5C98"/>
<rect x="541.1" y="823.2" width="1" height="7.2" fill="#CF5C98"/>
<rect x="551.6" y="823.2" width="1" height="7.2" fill="#CF5C98"/>
<rect x="552.5" y="823.2" width="1" height="7.2" fill="#CF5C98"/>
<rect x="556.1" y="823.2" width="1" height="7.2" fill="#CF5C98"/>
<rect x="567.5" y="823.2" width="1" height="7.2" fill="#CF5C98"/>
<rect x="569.0" y="823.2" width="1" height="7.2" fill="#CF5C98"/>
<rect x="570.5" y="823.2" width="1" height="7.2" fill="#CF5C98"/>
<rect x="583.1" y="823.2" width="1" height="7.2" fill="#CF5C98"/>
<rect x="612.0" y="823.2" width="1" height="7.2" fill="#CF5C98"/>
<rect x="627.0" y="823.2" width="1" height="7.2" fill="#CF5C98"/>
<rect x="635.6" y="823.2" width="1" height="7.2" fill="#CF5C98"/>
<rect x="643.5" y="823.2" width="1" height="7.2" fill="#CF5C98"/>
</g>
<rect x="388.4" y="590.3" width="268.0" height="240.10000000000002" fill="none" stroke="#333" stroke-width="1.6"/>
<rect x="656.4" y="590.3" width="26.899999999999977" height="240.10000000000002" fill="#D9D9D9" stroke="#333" stroke-width="1.6"/>
<text transform="translate(662.5,709.9) rotate(90)" text-anchor="middle" font-weight="bold" font-size="14.2" fill="#1A1A1A">IL-6</text>
<line x1="383.9" y1="793.2" x2="388.4" y2="793.2" stroke="#333" stroke-width="1.4"/>
<text transform="translate(380.2,799.2) scale(0.915,1)" text-anchor="end" font-size="15.5" fill="#4D4D4D">-50</text>
<line x1="383.9" y1="741.3" x2="388.4" y2="741.3" stroke="#333" stroke-width="1.4"/>
<text transform="translate(380.2,747.3) scale(0.915,1)" text-anchor="end" font-size="15.5" fill="#4D4D4D">0</text>
<line x1="383.9" y1="689.4" x2="388.4" y2="689.4" stroke="#333" stroke-width="1.4"/>
<text transform="translate(380.2,695.4) scale(0.915,1)" text-anchor="end" font-size="15.5" fill="#4D4D4D">50</text>
<line x1="383.9" y1="637.5" x2="388.4" y2="637.5" stroke="#333" stroke-width="1.4"/>
<text transform="translate(380.2,643.5) scale(0.915,1)" text-anchor="end" font-size="15.5" fill="#4D4D4D">100</text>
<clipPath id="clip30"><rect x="29.8" y="851.7" width="268.2" height="223.29999999999995"/></clipPath>
<g stroke="#EBEBEB" stroke-width="1.1">
<line x1="41.4" y1="851.7" x2="41.4" y2="1075.0"/>
<line x1="81.2" y1="851.7" x2="81.2" y2="1075.0"/>
<line x1="121.1" y1="851.7" x2="121.1" y2="1075.0"/>
<line x1="160.9" y1="851.7" x2="160.9" y2="1075.0"/>
<line x1="200.8" y1="851.7" x2="200.8" y2="1075.0"/>
<line x1="240.7" y1="851.7" x2="240.7" y2="1075.0"/>
<line x1="280.5" y1="851.7" x2="280.5" y2="1075.0"/>
<line x1="29.8" y1="1054.0" x2="298.0" y2="1054.0"/>
<line x1="29.8" y1="998.8" x2="298.0" y2="998.8"/>
<line x1="29.8" y1="943.6" x2="298.0" y2="943.6"/>
<line x1="29.8" y1="888.4" x2="298.0" y2="888.4"/>
</g>
<g clip-path="url(#clip30)">
<path d="M41.3,985.0 43.8,993.4 46.4,1000.3 48.9,1003.8 51.4,1004.6 53.9,1004.5 56.4,1003.7 58.9,1002.9 61.4,1002.4 63.9,1002.2 66.4,1001.9 68.9,1001.2 71.4,1000.0 73.9,997.9 76.4,995.0 78.9,992.0 81.5,989.7 84.0,987.5 86.5,985.1 89.0,982.4 91.5,979.7 94.0,977.2 96.5,975.0 99.0,973.1 101.5,971.1 104.0,968.7 106.5,965.8 109.0,963.4 111.5,961.9 114.0,960.7 116.6,959.6 119.1,958.6 121.6,957.5 124.1,956.4 126.6,955.1 129.1,953.9 131.6,953.0 134.1,952.2 136.6,951.4 139.1,950.6 141.6,949.2 144.1,947.5 146.6,945.7 149.1,944.0 151.7,942.2 154.2,940.5 156.7,938.7 159.2,936.9 161.7,934.6 164.2,932.1 166.7,929.6 169.2,927.0 171.7,923.8 174.2,920.3 176.7,916.8 179.2,913.1 181.7,908.5 184.3,903.5 186.8,898.5 189.3,893.5 191.8,889.0 194.3,885.5 196.8,882.2 199.3,879.0 201.8,876.4 204.3,874.0 206.8,871.8 209.3,869.8 211.8,868.6 214.3,867.9 216.8,867.2 219.4,866.7 221.9,866.6 224.4,866.7 226.9,866.8 229.4,867.0 231.9,867.8 234.4,868.7 236.9,869.7 239.4,870.9 241.9,872.4 244.4,874.1 246.9,875.9 249.4,877.7 251.9,879.4 254.5,881.2 257.0,882.9 259.5,884.6 262.0,886.2 264.5,887.7 267.0,889.2 269.5,890.8 272.0,892.5 274.5,894.2 277.0,896.0 279.5,897.8 282.0,899.7 284.5,901.7 284.5,1018.1 282.0,1010.0 279.5,1002.5 277.0,996.2 274.5,990.3 272.0,984.0 269.5,977.4 267.0,971.3 264.5,966.0 262.0,961.0 259.5,956.3 257.0,952.1 254.5,948.1 251.9,944.1 249.4,940.5 246.9,937.7 244.4,935.2 241.9,932.7 239.4,930.6 236.9,929.1 234.4,927.9 231.9,926.6 229.4,925.7 226.9,925.4 224.4,925.3 221.9,925.1 219.4,925.3 216.8,926.1 214.3,926.9 211.8,927.7 209.3,928.6 206.8,929.5 204.3,930.4 201.8,931.8 199.3,933.6 196.8,935.7 194.3,938.1 191.8,941.3 189.3,945.0 186.8,948.9 184.3,953.3 181.7,958.3 179.2,963.3 176.7,968.3 174.2,973.1 171.7,977.3 169.2,981.1 166.7,984.8 164.2,988.6 161.7,992.4 159.2,996.1 156.7,999.1 154.2,1001.4 151.7,1003.5 149.1,1005.3 146.6,1006.4 144.1,1007.4 141.6,1008.5 139.1,1009.5 136.6,1010.5 134.1,1011.5 131.6,1012.5 129.1,1013.5 126.6,1014.5 124.1,1015.7 121.6,1017.0 119.1,1017.8 116.6,1018.1 114.0,1018.5 111.5,1018.9 109.0,1019.5 106.5,1020.4 104.0,1022.1 101.5,1024.2 99.0,1026.6 96.5,1029.4 94.0,1032.5 91.5,1036.2 89.0,1040.5 86.5,1045.5 84.0,1051.3 81.5,1057.3 78.9,1061.6 76.4,1062.5 73.9,1062.1 71.4,1061.6 68.9,1061.0 66.4,1060.2 63.9,1059.2 61.4,1057.7 58.9,1055.8 56.4,1053.3 53.9,1050.3 51.4,1049.0 48.9,1048.7 46.4,1049.3 43.8,1053.8 41.3,1063.2Z" fill="#F8766D" fill-opacity="0.4"/>
<path d="M41.3,1024.7 43.8,1025.0 46.4,1025.5 48.9,1026.4 51.4,1027.2 53.9,1028.0 56.4,1028.8 58.9,1029.5 61.4,1030.2 63.9,1030.7 66.4,1030.9 68.9,1031.1 71.4,1031.1 73.9,1030.8 76.4,1029.6 78.9,1027.6 81.5,1024.5 84.0,1021.2 86.5,1017.2 89.0,1012.6 91.5,1008.9 94.0,1006.0 96.5,1003.4 99.0,1000.9 101.5,998.4 104.0,995.9 106.5,993.5 109.0,991.5 111.5,989.8 114.0,988.9 116.6,988.1 119.1,987.5 121.6,986.8 124.1,985.9 126.6,984.8 129.1,983.7 131.6,982.5 134.1,981.2 136.6,980.0 139.1,978.7 141.6,977.4 144.1,976.2 146.6,974.9 149.1,973.6 151.7,971.9 154.2,969.9 156.7,967.9 159.2,965.8 161.7,963.3 164.2,960.5 166.7,957.8 169.2,954.7 171.7,950.4 174.2,945.7 176.7,941.5 179.2,937.2 181.7,932.4 184.3,927.4 186.8,923.0 189.3,919.2 191.8,915.4 194.3,912.1 196.8,909.5 199.3,907.1 201.8,904.8 204.3,902.8 206.8,900.9 209.3,898.9 211.8,897.5 214.3,896.6 216.8,896.0 219.4,895.4 221.9,895.3 224.4,895.4 226.9,895.6 229.4,895.8 231.9,896.6 234.4,897.6 236.9,898.6 239.4,899.7 241.9,901.2 244.4,903.0 246.9,904.7 249.4,906.6 251.9,908.9 254.5,911.4 257.0,913.9 259.5,916.6 262.0,919.9 264.5,923.4 267.0,926.9 269.5,930.6 272.0,934.9 274.5,939.4 277.0,943.9 279.5,948.7 282.0,954.4 284.5,960.4" fill="none" stroke="#CF5C98" stroke-width="2" stroke-linejoin="round"/>
<path d="M41.3,1008.4 43.8,1015.4 46.3,1021.2 48.8,1024.5 51.3,1025.5 53.8,1025.2 56.3,1024.6 58.8,1023.3 61.3,1021.7 63.8,1018.9 66.3,1015.3 68.8,1011.9 71.3,1009.5 73.8,1008.3 76.3,1007.5 78.8,1006.7 81.3,1006.4 83.8,1007.1 86.3,1008.2 88.8,1009.7 91.3,1011.7 93.8,1014.0 96.3,1016.2 98.8,1018.1 101.3,1019.6 103.8,1020.7 106.3,1021.2 108.8,1021.2 111.3,1020.9 113.7,1020.6 116.2,1020.3 118.7,1019.9 121.2,1019.1 123.7,1018.1 126.2,1017.2 128.7,1016.5 131.2,1015.6 133.7,1014.6 136.2,1013.6 138.7,1012.6 141.2,1011.9 143.7,1011.4 146.2,1010.9 148.7,1010.4 151.2,1010.2 153.7,1010.1 156.2,1010.1 158.7,1010.2 161.2,1010.3 163.7,1010.5 166.2,1010.8 168.7,1011.0 171.2,1011.2 173.7,1011.4 176.2,1011.5 178.7,1011.6 181.2,1011.6 183.7,1011.5 186.2,1011.3 188.7,1011.2 191.2,1011.0 193.7,1010.7 196.2,1010.5 198.6,1010.3 201.1,1010.1 203.6,1010.1 206.1,1010.1 208.6,1010.0 211.1,1010.0 213.6,1009.9 216.1,1009.8 218.6,1009.8 221.1,1009.7 223.6,1009.6 226.1,1009.6 228.6,1009.5 231.1,1009.4 233.6,1009.3 236.1,1009.3 238.6,1009.2 241.1,1008.9 243.6,1008.4 246.1,1007.9 248.6,1007.4 251.1,1006.7 253.6,1006.0 256.1,1005.3 258.6,1004.5 261.1,1003.5 263.6,1002.2 266.1,1001.0 268.6,999.7 271.1,998.3 273.6,996.8 276.1,995.3 278.6,993.8 281.1,991.7 283.5,989.3 283.5,1065.8 281.1,1064.0 278.6,1062.2 276.1,1060.4 273.6,1058.6 271.1,1056.9 268.6,1055.3 266.1,1053.8 263.6,1052.3 261.1,1050.8 258.6,1049.5 256.1,1048.5 253.6,1047.5 251.1,1046.5 248.6,1045.6 246.1,1044.9 243.6,1044.1 241.1,1043.4 238.6,1042.9 236.1,1042.7 233.6,1042.5 231.1,1042.4 228.6,1042.2 226.1,1042.0 223.6,1041.8 221.1,1041.7 218.6,1041.6 216.1,1041.7 213.6,1041.9 211.1,1042.0 208.6,1042.1 206.1,1042.2 203.6,1042.3 201.1,1042.4 198.6,1042.4 196.2,1042.4 193.7,1042.4 191.2,1042.4 188.7,1042.3 186.2,1042.2 183.7,1042.1 181.2,1042.0 178.7,1041.9 176.2,1041.6 173.7,1041.4 171.2,1041.1 168.7,1040.7 166.2,1040.3 163.7,1039.8 161.2,1039.3 158.7,1039.1 156.2,1039.3 153.7,1039.6 151.2,1039.9 148.7,1040.2 146.2,1040.7 143.7,1041.2 141.2,1041.7 138.7,1042.5 136.2,1043.4 133.7,1044.4 131.2,1045.4 128.7,1046.4 126.2,1047.5 123.7,1048.7 121.2,1050.0 118.7,1051.0 116.2,1051.6 113.7,1052.1 111.3,1052.5 108.8,1052.5 106.3,1052.0 103.8,1051.0 101.3,1049.2 98.8,1047.1 96.3,1044.6 93.8,1042.1 91.3,1039.7 88.8,1038.0 86.3,1036.8 83.8,1036.4 81.3,1036.4 78.8,1037.1 76.3,1038.5 73.8,1040.3 71.3,1042.6 68.8,1045.2 66.3,1048.2 63.8,1050.3 61.3,1051.1 58.8,1051.3 56.3,1050.9 53.8,1050.5 51.3,1050.3 48.8,1049.7 46.3,1048.7 43.8,1047.3 41.3,1045.7Z" fill="#00BFC4" fill-opacity="0.4"/>
<path d="M41.3,1028.2 43.8,1031.5 46.3,1034.3 48.8,1036.5 51.3,1037.8 53.8,1038.6 56.3,1038.7 58.8,1038.6 61.3,1038.1 63.8,1036.3 66.3,1033.1 68.8,1029.3 71.3,1026.0 73.8,1023.9 76.3,1022.8 78.8,1021.9 81.3,1021.1 83.8,1021.5 86.3,1022.8 88.8,1024.3 91.3,1026.4 93.8,1029.1 96.3,1031.4 98.8,1033.3 101.3,1035.2 103.8,1036.9 106.3,1037.8 108.8,1038.0 111.3,1037.9 113.7,1037.5 116.2,1037.0 118.7,1036.5 121.2,1035.7 123.7,1034.6 126.2,1033.5 128.7,1032.5 131.2,1031.4 133.7,1030.1 136.2,1028.9 138.7,1027.7 141.2,1026.9 143.7,1026.5 146.2,1026.2 148.7,1025.8 151.2,1025.7 153.7,1025.7 156.2,1025.7 158.7,1025.7 161.2,1025.7 163.7,1025.7 166.2,1025.7 168.7,1026.1 171.2,1026.6 173.7,1026.7 176.2,1026.7 178.7,1026.7 181.2,1026.7 183.7,1026.7 186.2,1026.7 188.7,1026.7 191.2,1026.7 193.7,1026.7 196.2,1026.6 198.6,1026.6 201.1,1026.6 203.6,1026.6 206.1,1026.5 208.6,1026.4 211.1,1026.3 213.6,1026.2 216.1,1026.1 218.6,1026.1 221.1,1026.1 223.6,1026.1 226.1,1026.1 228.6,1026.1 231.1,1026.1 233.6,1026.1 236.1,1026.1 238.6,1026.1 241.1,1026.1 243.6,1026.1 246.1,1026.1 248.6,1026.1 251.1,1026.5 253.6,1026.8 256.1,1026.9 258.6,1026.9 261.1,1026.9 263.6,1026.9 266.1,1026.9 268.6,1026.9 271.1,1026.9 273.6,1026.9 276.1,1026.9 278.6,1027.2 281.1,1027.6 283.5,1027.6" fill="none" stroke="#1766C8" stroke-width="2" stroke-linejoin="round"/>
<rect x="40.9" y="1068.3" width="39.1" height="6.7" fill="#1766C8"/>
<rect x="82.1" y="1068.3" width="7.3" height="6.7" fill="#1766C8"/>
<rect x="90.2" y="1068.3" width="12.6" height="6.7" fill="#1766C8"/>
<rect x="108.1" y="1068.3" width="7.6" height="6.7" fill="#1766C8"/>
<rect x="115.0" y="1068.3" width="1.8" height="6.7" fill="#1766C8"/>
<rect x="122.6" y="1068.3" width="4.1" height="6.7" fill="#1766C8"/>
<rect x="130.8" y="1068.3" width="2.9" height="6.7" fill="#1766C8"/>
<rect x="138.4" y="1068.3" width="11.6" height="6.7" fill="#1766C8"/>
<rect x="151.2" y="1068.3" width="15.2" height="6.7" fill="#1766C8"/>
<rect x="171.1" y="1068.3" width="2.9" height="6.7" fill="#1766C8"/>
<rect x="178.1" y="1068.3" width="4.1" height="6.7" fill="#1766C8"/>
<rect x="186.2" y="1068.3" width="4.7" height="6.7" fill="#1766C8"/>
<rect x="192.1" y="1068.3" width="3.7" height="6.7" fill="#1766C8"/>
<rect x="196.6" y="1068.3" width="1.4" height="6.7" fill="#1766C8"/>
<rect x="201.7" y="1068.3" width="3.6" height="6.7" fill="#1766C8"/>
<rect x="210.4" y="1068.3" width="3.0" height="6.7" fill="#1766C8"/>
<rect x="219.9" y="1068.3" width="2.2" height="6.7" fill="#1766C8"/>
<rect x="227.2" y="1068.3" width="2.9" height="6.7" fill="#1766C8"/>
<rect x="235.3" y="1068.3" width="2.1" height="6.7" fill="#1766C8"/>
<rect x="244.0" y="1068.3" width="1.8" height="6.7" fill="#1766C8"/>
<rect x="252.0" y="1068.3" width="2.2" height="6.7" fill="#1766C8"/>
<rect x="258.6" y="1068.3" width="2.9" height="6.7" fill="#1766C8"/>
<rect x="268.1" y="1068.3" width="2.2" height="6.7" fill="#1766C8"/>
<rect x="273.2" y="1068.3" width="1.5" height="6.7" fill="#1766C8"/>
<rect x="275.4" y="1068.3" width="2.2" height="6.7" fill="#1766C8"/>
<rect x="283.4" y="1068.3" width="2.2" height="6.7" fill="#1766C8"/>
<rect x="47.3" y="1068.3" width="4.1" height="6.7" fill="#CF5C98"/>
<rect x="66.0" y="1068.3" width="2.9" height="6.7" fill="#CF5C98"/>
<rect x="104.3" y="1068.3" width="3.8" height="6.7" fill="#CF5C98"/>
<rect x="130.2" y="1068.3" width="0.6" height="6.7" fill="#CF5C98"/>
<rect x="169.9" y="1068.3" width="1.2" height="6.7" fill="#CF5C98"/>
<rect x="185.1" y="1068.3" width="1.1" height="6.7" fill="#CF5C98"/>
<rect x="194.4" y="1068.3" width="1.4" height="6.7" fill="#CF5C98"/>
<rect x="73.7" y="1068.3" width="1" height="6.7" fill="#CF5C98"/>
<rect x="77.2" y="1068.3" width="1" height="6.7" fill="#CF5C98"/>
<rect x="85.4" y="1068.3" width="1" height="6.7" fill="#CF5C98"/>
<rect x="97.1" y="1068.3" width="1" height="6.7" fill="#CF5C98"/>
<rect x="109.0" y="1068.3" width="1" height="6.7" fill="#CF5C98"/>
<rect x="111.7" y="1068.3" width="1" height="6.7" fill="#CF5C98"/>
<rect x="116.8" y="1068.3" width="1" height="6.7" fill="#CF5C98"/>
<rect x="125.0" y="1068.3" width="1" height="6.7" fill="#CF5C98"/>
<rect x="141.4" y="1068.3" width="1" height="6.7" fill="#CF5C98"/>
<rect x="145.1" y="1068.3" width="1" height="6.7" fill="#CF5C98"/>
<rect x="146.6" y="1068.3" width="1" height="6.7" fill="#CF5C98"/>
<rect x="153.6" y="1068.3" width="1" height="6.7" fill="#CF5C98"/>
<rect x="154.8" y="1068.3" width="1" height="6.7" fill="#CF5C98"/>
<rect x="181.7" y="1068.3" width="1" height="6.7" fill="#CF5C98"/>
<rect x="200.5" y="1068.3" width="1" height="6.7" fill="#CF5C98"/>
<rect x="209.2" y="1068.3" width="1" height="6.7" fill="#CF5C98"/>
<rect x="221.0" y="1068.3" width="1" height="6.7" fill="#CF5C98"/>
<rect x="252.5" y="1068.3" width="1" height="6.7" fill="#CF5C98"/>
<rect x="261.0" y="1068.3" width="1" height="6.7" fill="#CF5C98"/>
<rect x="269.0" y="1068.3" width="1" height="6.7" fill="#CF5C98"/>
<rect x="276.0" y="1068.3" width="1" height="6.7" fill="#CF5C98"/>
<rect x="284.0" y="1068.3" width="1" height="6.7" fill="#CF5C98"/>
</g>
<rect x="29.8" y="851.7" width="268.2" height="223.29999999999995" fill="none" stroke="#333" stroke-width="1.6"/>
<rect x="298.0" y="851.7" width="26.80000000000001" height="223.29999999999995" fill="#D9D9D9" stroke="#333" stroke-width="1.6"/>
<text transform="translate(304.1,963.0) rotate(90)" text-anchor="middle" font-weight="bold" font-size="14.2" fill="#1A1A1A">ALP</text>
<line x1="25.3" y1="1054.0" x2="29.8" y2="1054.0" stroke="#333" stroke-width="1.4"/>
<text transform="translate(20.5,1060.0) scale(0.915,1)" text-anchor="end" font-size="15.5" fill="#4D4D4D">0.5</text>
<line x1="25.3" y1="998.8" x2="29.8" y2="998.8" stroke="#333" stroke-width="1.4"/>
<text transform="translate(20.5,1004.8) scale(0.915,1)" text-anchor="end" font-size="15.5" fill="#4D4D4D">1.0</text>
<line x1="25.3" y1="943.6" x2="29.8" y2="943.6" stroke="#333" stroke-width="1.4"/>
<text transform="translate(20.5,949.6) scale(0.915,1)" text-anchor="end" font-size="15.5" fill="#4D4D4D">1.5</text>
<line x1="25.3" y1="888.4" x2="29.8" y2="888.4" stroke="#333" stroke-width="1.4"/>
<text transform="translate(20.5,894.4) scale(0.915,1)" text-anchor="end" font-size="15.5" fill="#4D4D4D">2.0</text>
<line x1="41.4" y1="1075.0" x2="41.4" y2="1079.5" stroke="#333" stroke-width="1.4"/>
<text transform="translate(41.2,1094.7) scale(0.915,1)" text-anchor="middle" font-size="15.5" fill="#4D4D4D">0</text>
<line x1="81.2" y1="1075.0" x2="81.2" y2="1079.5" stroke="#333" stroke-width="1.4"/>
<text transform="translate(81.0,1094.7) scale(0.915,1)" text-anchor="middle" font-size="15.5" fill="#4D4D4D">5</text>
<line x1="121.1" y1="1075.0" x2="121.1" y2="1079.5" stroke="#333" stroke-width="1.4"/>
<text transform="translate(120.9,1094.7) scale(0.915,1)" text-anchor="middle" font-size="15.5" fill="#4D4D4D">10</text>
<line x1="160.9" y1="1075.0" x2="160.9" y2="1079.5" stroke="#333" stroke-width="1.4"/>
<text transform="translate(160.8,1094.7) scale(0.915,1)" text-anchor="middle" font-size="15.5" fill="#4D4D4D">15</text>
<line x1="200.8" y1="1075.0" x2="200.8" y2="1079.5" stroke="#333" stroke-width="1.4"/>
<text transform="translate(200.6,1094.7) scale(0.915,1)" text-anchor="middle" font-size="15.5" fill="#4D4D4D">20</text>
<line x1="240.7" y1="1075.0" x2="240.7" y2="1079.5" stroke="#333" stroke-width="1.4"/>
<text transform="translate(240.5,1094.7) scale(0.915,1)" text-anchor="middle" font-size="15.5" fill="#4D4D4D">25</text>
<line x1="280.5" y1="1075.0" x2="280.5" y2="1079.5" stroke="#333" stroke-width="1.4"/>
<text transform="translate(280.3,1094.7) scale(0.915,1)" text-anchor="middle" font-size="15.5" fill="#4D4D4D">30</text>
<clipPath id="clip31"><rect x="388.4" y="851.7" width="268.0" height="223.29999999999995"/></clipPath>
<g stroke="#EBEBEB" stroke-width="1.1">
<line x1="401.0" y1="851.7" x2="401.0" y2="1075.0"/>
<line x1="440.9" y1="851.7" x2="440.9" y2="1075.0"/>
<line x1="480.7" y1="851.7" x2="480.7" y2="1075.0"/>
<line x1="520.5" y1="851.7" x2="520.5" y2="1075.0"/>
<line x1="560.4" y1="851.7" x2="560.4" y2="1075.0"/>
<line x1="600.2" y1="851.7" x2="600.2" y2="1075.0"/>
<line x1="640.1" y1="851.7" x2="640.1" y2="1075.0"/>
<line x1="388.4" y1="1038.4" x2="656.4" y2="1038.4"/>
<line x1="388.4" y1="987.7" x2="656.4" y2="987.7"/>
<line x1="388.4" y1="937.1" x2="656.4" y2="937.1"/>
<line x1="388.4" y1="886.4" x2="656.4" y2="886.4"/>
</g>
<g clip-path="url(#clip31)">
<path d="M400.9,950.9 403.4,961.7 405.9,966.5 408.4,968.6 410.9,970.0 413.4,970.7 415.9,970.3 418.4,969.1 420.9,969.4 423.4,970.8 425.9,973.0 428.4,975.5 430.9,978.0 433.4,980.5 435.9,983.0 438.4,985.1 440.9,986.6 443.4,987.1 445.9,987.0 448.4,986.6 450.9,985.8 453.4,984.9 455.9,983.8 458.4,982.5 461.0,981.3 463.5,980.0 466.0,978.8 468.5,977.6 471.0,976.4 473.5,975.2 476.0,973.9 478.5,972.8 481.0,972.8 483.5,974.0 486.0,975.1 488.5,976.1 491.0,977.1 493.5,978.1 496.0,979.1 498.5,980.1 501.0,980.9 503.5,981.7 506.0,982.4 508.5,983.2 511.0,983.9 513.5,984.7 516.0,985.4 518.5,986.1 521.0,986.6 523.5,987.0 526.0,987.4 528.5,987.8 531.0,988.0 533.5,988.2 536.0,988.4 538.5,988.6 541.0,988.7 543.5,988.7 546.0,988.7 548.5,988.7 551.0,988.7 553.5,988.7 556.0,988.7 558.5,988.7 561.0,988.7 563.5,988.7 566.0,988.7 568.5,988.7 571.0,988.7 573.5,988.7 576.0,988.7 578.5,988.6 581.0,988.6 583.5,988.6 586.0,988.5 588.5,988.5 591.0,988.4 593.5,988.4 596.0,988.3 598.5,988.2 601.0,987.8 603.5,987.3 606.0,986.8 608.5,986.2 611.0,985.3 613.5,984.4 616.0,983.4 618.5,982.3 621.0,981.3 623.5,980.3 626.0,979.3 628.5,978.2 631.0,976.6 633.5,974.9 636.0,973.1 638.5,971.4 641.0,969.9 643.5,968.4 643.5,1062.9 641.0,1060.8 638.5,1058.8 636.0,1056.6 633.5,1054.3 631.0,1052.1 628.5,1050.0 626.0,1048.4 623.5,1046.9 621.0,1045.4 618.5,1043.9 616.0,1042.4 613.5,1040.9 611.0,1039.4 608.5,1038.0 606.0,1036.9 603.5,1035.9 601.0,1034.9 598.5,1034.0 596.0,1033.2 593.5,1032.4 591.0,1031.7 588.5,1031.0 586.0,1030.5 583.5,1030.0 581.0,1029.5 578.5,1029.0 576.0,1028.6 573.5,1028.3 571.0,1027.9 568.5,1027.6 566.0,1027.2 563.5,1026.8 561.0,1026.5 558.5,1026.2 556.0,1026.0 553.5,1025.7 551.0,1025.4 548.5,1025.0 546.0,1024.7 543.5,1024.3 541.0,1024.0 538.5,1023.6 536.0,1023.2 533.5,1022.8 531.0,1022.4 528.5,1022.0 526.0,1021.6 523.5,1021.2 521.0,1020.8 518.5,1020.4 516.0,1019.8 513.5,1019.2 511.0,1018.6 508.5,1018.0 506.0,1017.2 503.5,1016.5 501.0,1015.7 498.5,1014.9 496.0,1013.9 493.5,1012.9 491.0,1011.9 488.5,1011.0 486.0,1010.2 483.5,1009.4 481.0,1008.7 478.5,1008.5 476.0,1008.8 473.5,1009.2 471.0,1009.6 468.5,1010.0 466.0,1010.5 463.5,1011.2 461.0,1012.0 458.4,1013.1 455.9,1014.4 453.4,1015.9 450.9,1017.4 448.4,1018.9 445.9,1020.3 443.4,1021.3 440.9,1020.5 438.4,1018.1 435.9,1015.2 433.4,1012.2 430.9,1009.5 428.4,1007.1 425.9,1005.1 423.4,1003.4 420.9,1002.1 418.4,1001.8 415.9,1003.0 413.4,1003.9 410.9,1002.7 408.4,999.1 405.9,994.2 403.4,987.5 400.9,978.9Z" fill="#F8766D" fill-opacity="0.4"/>
<path d="M400.3,960.2 402.8,968.9 405.4,976.7 407.9,982.0 410.4,985.6 412.9,987.4 415.4,987.3 417.9,985.7 420.4,984.8 422.9,986.1 425.4,988.6 427.9,990.8 430.4,992.8 432.9,995.2 435.4,997.8 437.9,1000.8 440.5,1003.1 443.0,1003.8 445.5,1003.9 448.0,1003.6 450.5,1002.8 453.0,1001.6 455.5,1000.4 458.0,999.1 460.5,998.1 463.0,997.0 465.5,996.0 468.0,995.0 470.5,993.9 473.0,992.4 475.6,991.2 478.1,990.3 480.6,990.2 483.1,991.0 485.6,992.0 488.1,993.0 490.6,994.0 493.1,995.1 495.6,996.3 498.1,997.4 500.6,998.3 503.1,999.0 505.6,999.7 508.1,1000.4 510.7,1001.1 513.2,1001.7 515.7,1002.4 518.2,1003.0 520.7,1003.4 523.2,1003.8 525.7,1004.1 528.2,1004.5 530.7,1004.9 533.2,1005.3 535.7,1005.7 538.2,1006.1 540.7,1006.4 543.3,1006.7 545.8,1007.0 548.3,1007.3 550.8,1007.5 553.3,1007.7 555.8,1007.9 558.3,1008.1 560.8,1008.2 563.3,1008.3 565.8,1008.4 568.3,1008.5 570.8,1008.7 573.3,1008.9 575.8,1009.1 578.4,1009.3 580.9,1009.5 583.4,1009.7 585.9,1009.9 588.4,1010.1 590.9,1010.3 593.4,1010.6 595.9,1010.8 598.4,1011.1 600.9,1011.3 603.4,1011.6 605.9,1011.9 608.4,1012.1 610.9,1012.4 613.5,1012.6 616.0,1012.9 618.5,1013.1 621.0,1013.3 623.5,1013.4 626.0,1013.6 628.5,1013.7 631.0,1014.0 633.5,1014.2 636.0,1014.5 638.5,1014.7 641.0,1014.9 643.5,1015.1" fill="none" stroke="#CF5C98" stroke-width="2" stroke-linejoin="round"/>
<path d="M400.9,933.4 403.4,928.1 405.9,924.6 408.4,922.3 410.9,920.9 413.4,920.4 415.9,920.0 418.4,919.8 420.8,919.6 423.3,919.4 425.8,919.4 428.3,919.3 430.8,919.3 433.3,919.4 435.8,919.7 438.3,920.1 440.8,920.6 443.3,921.8 445.8,923.2 448.2,924.5 450.7,925.5 453.2,926.3 455.7,926.9 458.2,927.5 460.7,928.2 463.2,929.0 465.7,929.8 468.2,930.7 470.7,931.5 473.2,932.2 475.7,932.9 478.1,933.9 480.6,935.3 483.1,936.9 485.6,938.2 488.1,939.2 490.6,940.2 493.1,941.2 495.6,942.2 498.1,943.2 500.6,944.0 503.1,944.7 505.5,945.5 508.0,946.2 510.5,946.8 513.0,947.3 515.5,947.8 518.0,948.3 520.5,948.6 523.0,948.9 525.5,949.1 528.0,949.4 530.5,949.5 532.9,949.5 535.4,949.5 537.9,949.4 540.4,949.1 542.9,948.6 545.4,948.1 547.9,947.6 550.4,946.9 552.9,946.2 555.4,945.5 557.9,944.8 560.3,944.1 562.8,943.3 565.3,942.6 567.8,941.8 570.3,941.1 572.8,940.4 575.3,939.6 577.8,938.8 580.3,937.8 582.8,936.6 585.3,935.3 587.7,934.1 590.2,932.6 592.7,930.8 595.2,929.1 597.7,927.3 600.2,925.1 602.7,922.7 605.2,920.2 607.7,917.7 610.2,915.2 612.7,912.7 615.1,910.2 617.6,907.7 620.1,904.9 622.6,902.0 625.1,899.0 627.6,895.9 630.1,892.4 632.6,888.4 635.1,884.4 637.6,880.4 640.1,875.9 642.5,870.9 642.5,940.1 640.1,941.0 637.6,941.8 635.1,942.6 632.6,943.3 630.1,944.1 627.6,944.8 625.1,945.5 622.6,946.3 620.1,947.1 617.6,947.9 615.1,948.9 612.7,949.9 610.2,950.9 607.7,951.9 605.2,952.9 602.7,953.9 600.2,954.9 597.7,955.7 595.2,956.5 592.7,957.3 590.2,958.0 587.7,958.7 585.3,959.5 582.8,960.2 580.3,961.0 577.8,961.7 575.3,962.5 572.8,963.2 570.3,964.0 567.8,964.6 565.3,965.1 562.8,965.4 560.3,965.5 557.9,965.4 555.4,965.6 552.9,966.1 550.4,966.8 547.9,967.5 545.4,968.0 542.9,968.5 540.4,969.0 537.9,969.3 535.4,969.4 532.9,969.4 530.5,969.3 528.0,969.2 525.5,968.7 523.0,968.2 520.5,967.7 518.0,967.2 515.5,966.7 513.0,966.2 510.5,965.7 508.0,965.1 505.5,964.4 503.1,963.6 500.6,962.9 498.1,961.9 495.6,960.7 493.1,959.5 490.6,958.3 488.1,957.0 485.6,955.7 483.1,954.4 480.6,952.8 478.1,951.4 475.7,950.3 473.2,949.2 470.7,948.1 468.2,947.2 465.7,946.4 463.2,945.6 460.7,944.9 458.2,944.3 455.7,943.6 453.2,942.6 450.7,941.6 448.2,940.6 445.8,939.6 443.3,938.6 440.8,937.6 438.3,937.0 435.8,936.9 433.3,936.9 430.8,936.9 428.3,936.9 425.8,936.9 423.3,937.1 420.8,937.4 418.4,937.7 415.9,938.0 413.4,938.3 410.9,938.7 408.4,939.1 405.9,940.0 403.4,942.4 400.9,950.9Z" fill="#00BFC4" fill-opacity="0.4"/>
<path d="M400.9,942.7 403.4,937.4 405.9,933.9 408.4,931.2 410.9,929.3 413.4,928.2 415.9,928.0 418.4,928.5 420.8,928.7 423.3,928.7 425.8,928.3 428.3,927.5 430.8,927.2 433.3,927.5 435.8,927.8 438.3,928.1 440.8,928.9 443.3,929.9 445.8,931.1 448.2,932.6 450.7,933.6 453.2,934.3 455.7,934.7 458.2,935.0 460.7,935.4 463.2,936.1 465.7,936.9 468.2,938.1 470.7,939.4 473.2,940.8 475.7,942.3 478.1,943.5 480.6,944.2 483.1,944.7 485.6,945.3 488.1,946.2 490.6,947.3 493.1,948.6 495.6,949.8 498.1,951.0 500.6,952.0 503.1,952.9 505.5,953.7 508.0,954.5 510.5,955.3 513.0,955.9 515.5,956.6 518.0,957.2 520.5,957.7 523.0,958.1 525.5,958.5 528.0,958.9 530.5,959.1 532.9,959.2 535.4,959.3 537.9,959.3 540.4,959.2 542.9,958.8 545.4,958.5 547.9,958.1 550.4,957.6 552.9,956.9 555.4,956.4 557.9,956.0 560.3,955.7 562.8,955.2 565.3,954.5 567.8,953.8 570.3,953.0 572.8,952.3 575.3,951.5 577.8,950.8 580.3,949.8 582.8,948.5 585.3,947.3 587.7,946.0 590.2,944.8 592.7,943.5 595.2,942.3 597.7,941.0 600.2,939.5 602.7,937.8 605.2,936.0 607.7,934.3 610.2,932.4 612.7,930.4 615.1,928.4 617.6,926.4 620.1,924.4 622.6,922.4 625.1,920.4 627.6,918.4 630.1,916.3 632.6,914.1 635.1,911.8 637.6,909.6 640.1,907.2 642.5,904.7" fill="none" stroke="#1766C8" stroke-width="2" stroke-linejoin="round"/>
<rect x="400.6" y="1068.3" width="109.4" height="6.7" fill="#1766C8"/>
<rect x="511.2" y="1068.3" width="6.4" height="6.7" fill="#1766C8"/>
<rect x="519.1" y="1068.3" width="8.5" height="6.7" fill="#1766C8"/>
<rect x="528.5" y="1068.3" width="4.9" height="6.7" fill="#1766C8"/>
<rect x="535.1" y="1068.3" width="3.0" height="6.7" fill="#1766C8"/>
<rect x="545.0" y="1068.3" width="5.3" height="6.7" fill="#1766C8"/>
<rect x="552.7" y="1068.3" width="8.3" height="6.7" fill="#1766C8"/>
<rect x="561.7" y="1068.3" width="5.1" height="6.7" fill="#1766C8"/>
<rect x="568.2" y="1068.3" width="4.4" height="6.7" fill="#1766C8"/>
<rect x="577.0" y="1068.3" width="3.7" height="6.7" fill="#1766C8"/>
<rect x="586.5" y="1068.3" width="2.2" height="6.7" fill="#1766C8"/>
<rect x="594.5" y="1068.3" width="2.2" height="6.7" fill="#1766C8"/>
<rect x="601.8" y="1068.3" width="2.9" height="6.7" fill="#1766C8"/>
<rect x="611.3" y="1068.3" width="2.2" height="6.7" fill="#1766C8"/>
<rect x="617.2" y="1068.3" width="2.8" height="6.7" fill="#1766C8"/>
<rect x="625.2" y="1068.3" width="3.6" height="6.7" fill="#1766C8"/>
<rect x="632.5" y="1068.3" width="2.2" height="6.7" fill="#1766C8"/>
<rect x="639.8" y="1068.3" width="2.2" height="6.7" fill="#1766C8"/>
<rect x="642.7" y="1068.3" width="2.2" height="6.7" fill="#1766C8"/>
<rect x="540.4" y="1068.3" width="1.8" height="6.7" fill="#CF5C98"/>
<rect x="410.9" y="1068.3" width="1" height="6.7" fill="#CF5C98"/>
<rect x="416.0" y="1068.3" width="1" height="6.7" fill="#CF5C98"/>
<rect x="423.4" y="1068.3" width="1" height="6.7" fill="#CF5C98"/>
<rect x="424.4" y="1068.3" width="1" height="6.7" fill="#CF5C98"/>
<rect x="440.1" y="1068.3" width="1" height="6.7" fill="#CF5C98"/>
<rect x="444.8" y="1068.3" width="1" height="6.7" fill="#CF5C98"/>
<rect x="457.1" y="1068.3" width="1" height="6.7" fill="#CF5C98"/>
<rect x="463.8" y="1068.3" width="1" height="6.7" fill="#CF5C98"/>
<rect x="472.8" y="1068.3" width="1" height="6.7" fill="#CF5C98"/>
<rect x="479.8" y="1068.3" width="1" height="6.7" fill="#CF5C98"/>
<rect x="488.3" y="1068.3" width="1" height="6.7" fill="#CF5C98"/>
<rect x="495.5" y="1068.3" width="1" height="6.7" fill="#CF5C98"/>
<rect x="500.0" y="1068.3" width="1" height="6.7" fill="#CF5C98"/>
<rect x="508.4" y="1068.3" width="1" height="6.7" fill="#CF5C98"/>
<rect x="528.8" y="1068.3" width="1" height="6.7" fill="#CF5C98"/>
<rect x="531.7" y="1068.3" width="1" height="6.7" fill="#CF5C98"/>
<rect x="553.1" y="1068.3" width="1" height="6.7" fill="#CF5C98"/>
<rect x="556.1" y="1068.3" width="1" height="6.7" fill="#CF5C98"/>
<rect x="559.7" y="1068.3" width="1" height="6.7" fill="#CF5C98"/>
<rect x="564.1" y="1068.3" width="1" height="6.7" fill="#CF5C98"/>
<rect x="568.5" y="1068.3" width="1" height="6.7" fill="#CF5C98"/>
<rect x="579.4" y="1068.3" width="1" height="6.7" fill="#CF5C98"/>
<rect x="612.0" y="1068.3" width="1" height="6.7" fill="#CF5C98"/>
<rect x="627.0" y="1068.3" width="1" height="6.7" fill="#CF5C98"/>
<rect x="635.6" y="1068.3" width="1" height="6.7" fill="#CF5C98"/>
<rect x="643.8" y="1068.3" width="1" height="6.7" fill="#CF5C98"/>
</g>
<rect x="388.4" y="851.7" width="268.0" height="223.29999999999995" fill="none" stroke="#333" stroke-width="1.6"/>
<rect x="656.4" y="851.7" width="26.899999999999977" height="223.29999999999995" fill="#D9D9D9" stroke="#333" stroke-width="1.6"/>
<text transform="translate(662.5,963.0) rotate(90)" text-anchor="middle" font-weight="bold" font-size="14.2" fill="#1A1A1A">Lymphocytes</text>
<line x1="383.9" y1="1038.4" x2="388.4" y2="1038.4" stroke="#333" stroke-width="1.4"/>
<text transform="translate(380.2,1044.4) scale(0.915,1)" text-anchor="end" font-size="15.5" fill="#4D4D4D">0</text>
<line x1="383.9" y1="987.7" x2="388.4" y2="987.7" stroke="#333" stroke-width="1.4"/>
<text transform="translate(380.2,993.7) scale(0.915,1)" text-anchor="end" font-size="15.5" fill="#4D4D4D">10</text>
<line x1="383.9" y1="937.1" x2="388.4" y2="937.1" stroke="#333" stroke-width="1.4"/>
<text transform="translate(380.2,943.1) scale(0.915,1)" text-anchor="end" font-size="15.5" fill="#4D4D4D">20</text>
<line x1="383.9" y1="886.4" x2="388.4" y2="886.4" stroke="#333" stroke-width="1.4"/>
<text transform="translate(380.2,892.4) scale(0.915,1)" text-anchor="end" font-size="15.5" fill="#4D4D4D">30</text>
<line x1="401.0" y1="1075.0" x2="401.0" y2="1079.5" stroke="#333" stroke-width="1.4"/>
<text transform="translate(400.8,1094.7) scale(0.915,1)" text-anchor="middle" font-size="15.5" fill="#4D4D4D">0</text>
<line x1="440.9" y1="1075.0" x2="440.9" y2="1079.5" stroke="#333" stroke-width="1.4"/>
<text transform="translate(440.7,1094.7) scale(0.915,1)" text-anchor="middle" font-size="15.5" fill="#4D4D4D">5</text>
<line x1="480.7" y1="1075.0" x2="480.7" y2="1079.5" stroke="#333" stroke-width="1.4"/>
<text transform="translate(480.5,1094.7) scale(0.915,1)" text-anchor="middle" font-size="15.5" fill="#4D4D4D">10</text>
<line x1="520.5" y1="1075.0" x2="520.5" y2="1079.5" stroke="#333" stroke-width="1.4"/>
<text transform="translate(520.3,1094.7) scale(0.915,1)" text-anchor="middle" font-size="15.5" fill="#4D4D4D">15</text>
<line x1="560.4" y1="1075.0" x2="560.4" y2="1079.5" stroke="#333" stroke-width="1.4"/>
<text transform="translate(560.2,1094.7) scale(0.915,1)" text-anchor="middle" font-size="15.5" fill="#4D4D4D">20</text>
<line x1="600.2" y1="1075.0" x2="600.2" y2="1079.5" stroke="#333" stroke-width="1.4"/>
<text transform="translate(600.0,1094.7) scale(0.915,1)" text-anchor="middle" font-size="15.5" fill="#4D4D4D">25</text>
<line x1="640.1" y1="1075.0" x2="640.1" y2="1079.5" stroke="#333" stroke-width="1.4"/>
<text transform="translate(639.9,1094.7) scale(0.915,1)" text-anchor="middle" font-size="15.5" fill="#4D4D4D">30</text>
<rect x="29.8" y="68.2" width="268.2" height="27.099999999999994" fill="#D9D9D9" stroke="#333" stroke-width="1.6"/>
<text x="163.9" y="88.5" text-anchor="middle" font-weight="bold" font-size="14.3" fill="#1A1A1A">Transaminases</text>
<rect x="388.4" y="68.2" width="268.0" height="27.099999999999994" fill="#D9D9D9" stroke="#333" stroke-width="1.6"/>
<text x="522.4" y="88.5" text-anchor="middle" font-weight="bold" font-size="14.3" fill="#1A1A1A">Inflammation Markers</text>
<rect x="249.4" y="1" width="26.7" height="26.8" fill="#F8766D" fill-opacity="0.64"/>
<line x1="252" y1="15.1" x2="272.8" y2="15.1" stroke="#CF5C98" stroke-width="2"/>
<text x="284.6" y="22.1" font-size="14.7" fill="#1A1A1A">Deceased</text>
<rect x="359.4" y="1" width="27" height="26.8" fill="#00BFC4" fill-opacity="0.64"/>
<line x1="363" y1="15.1" x2="384" y2="15.1" stroke="#1766C8" stroke-width="2"/>
<text x="395.8" y="22" font-size="14.5" textLength="30.2" lengthAdjust="spacingAndGlyphs" fill="#1A1A1A">Alive</text>
<text x="333.2" y="1125.3" text-anchor="middle" font-size="18.3" fill="#1A1A1A">Time (days)</text>
</svg></body></html>
